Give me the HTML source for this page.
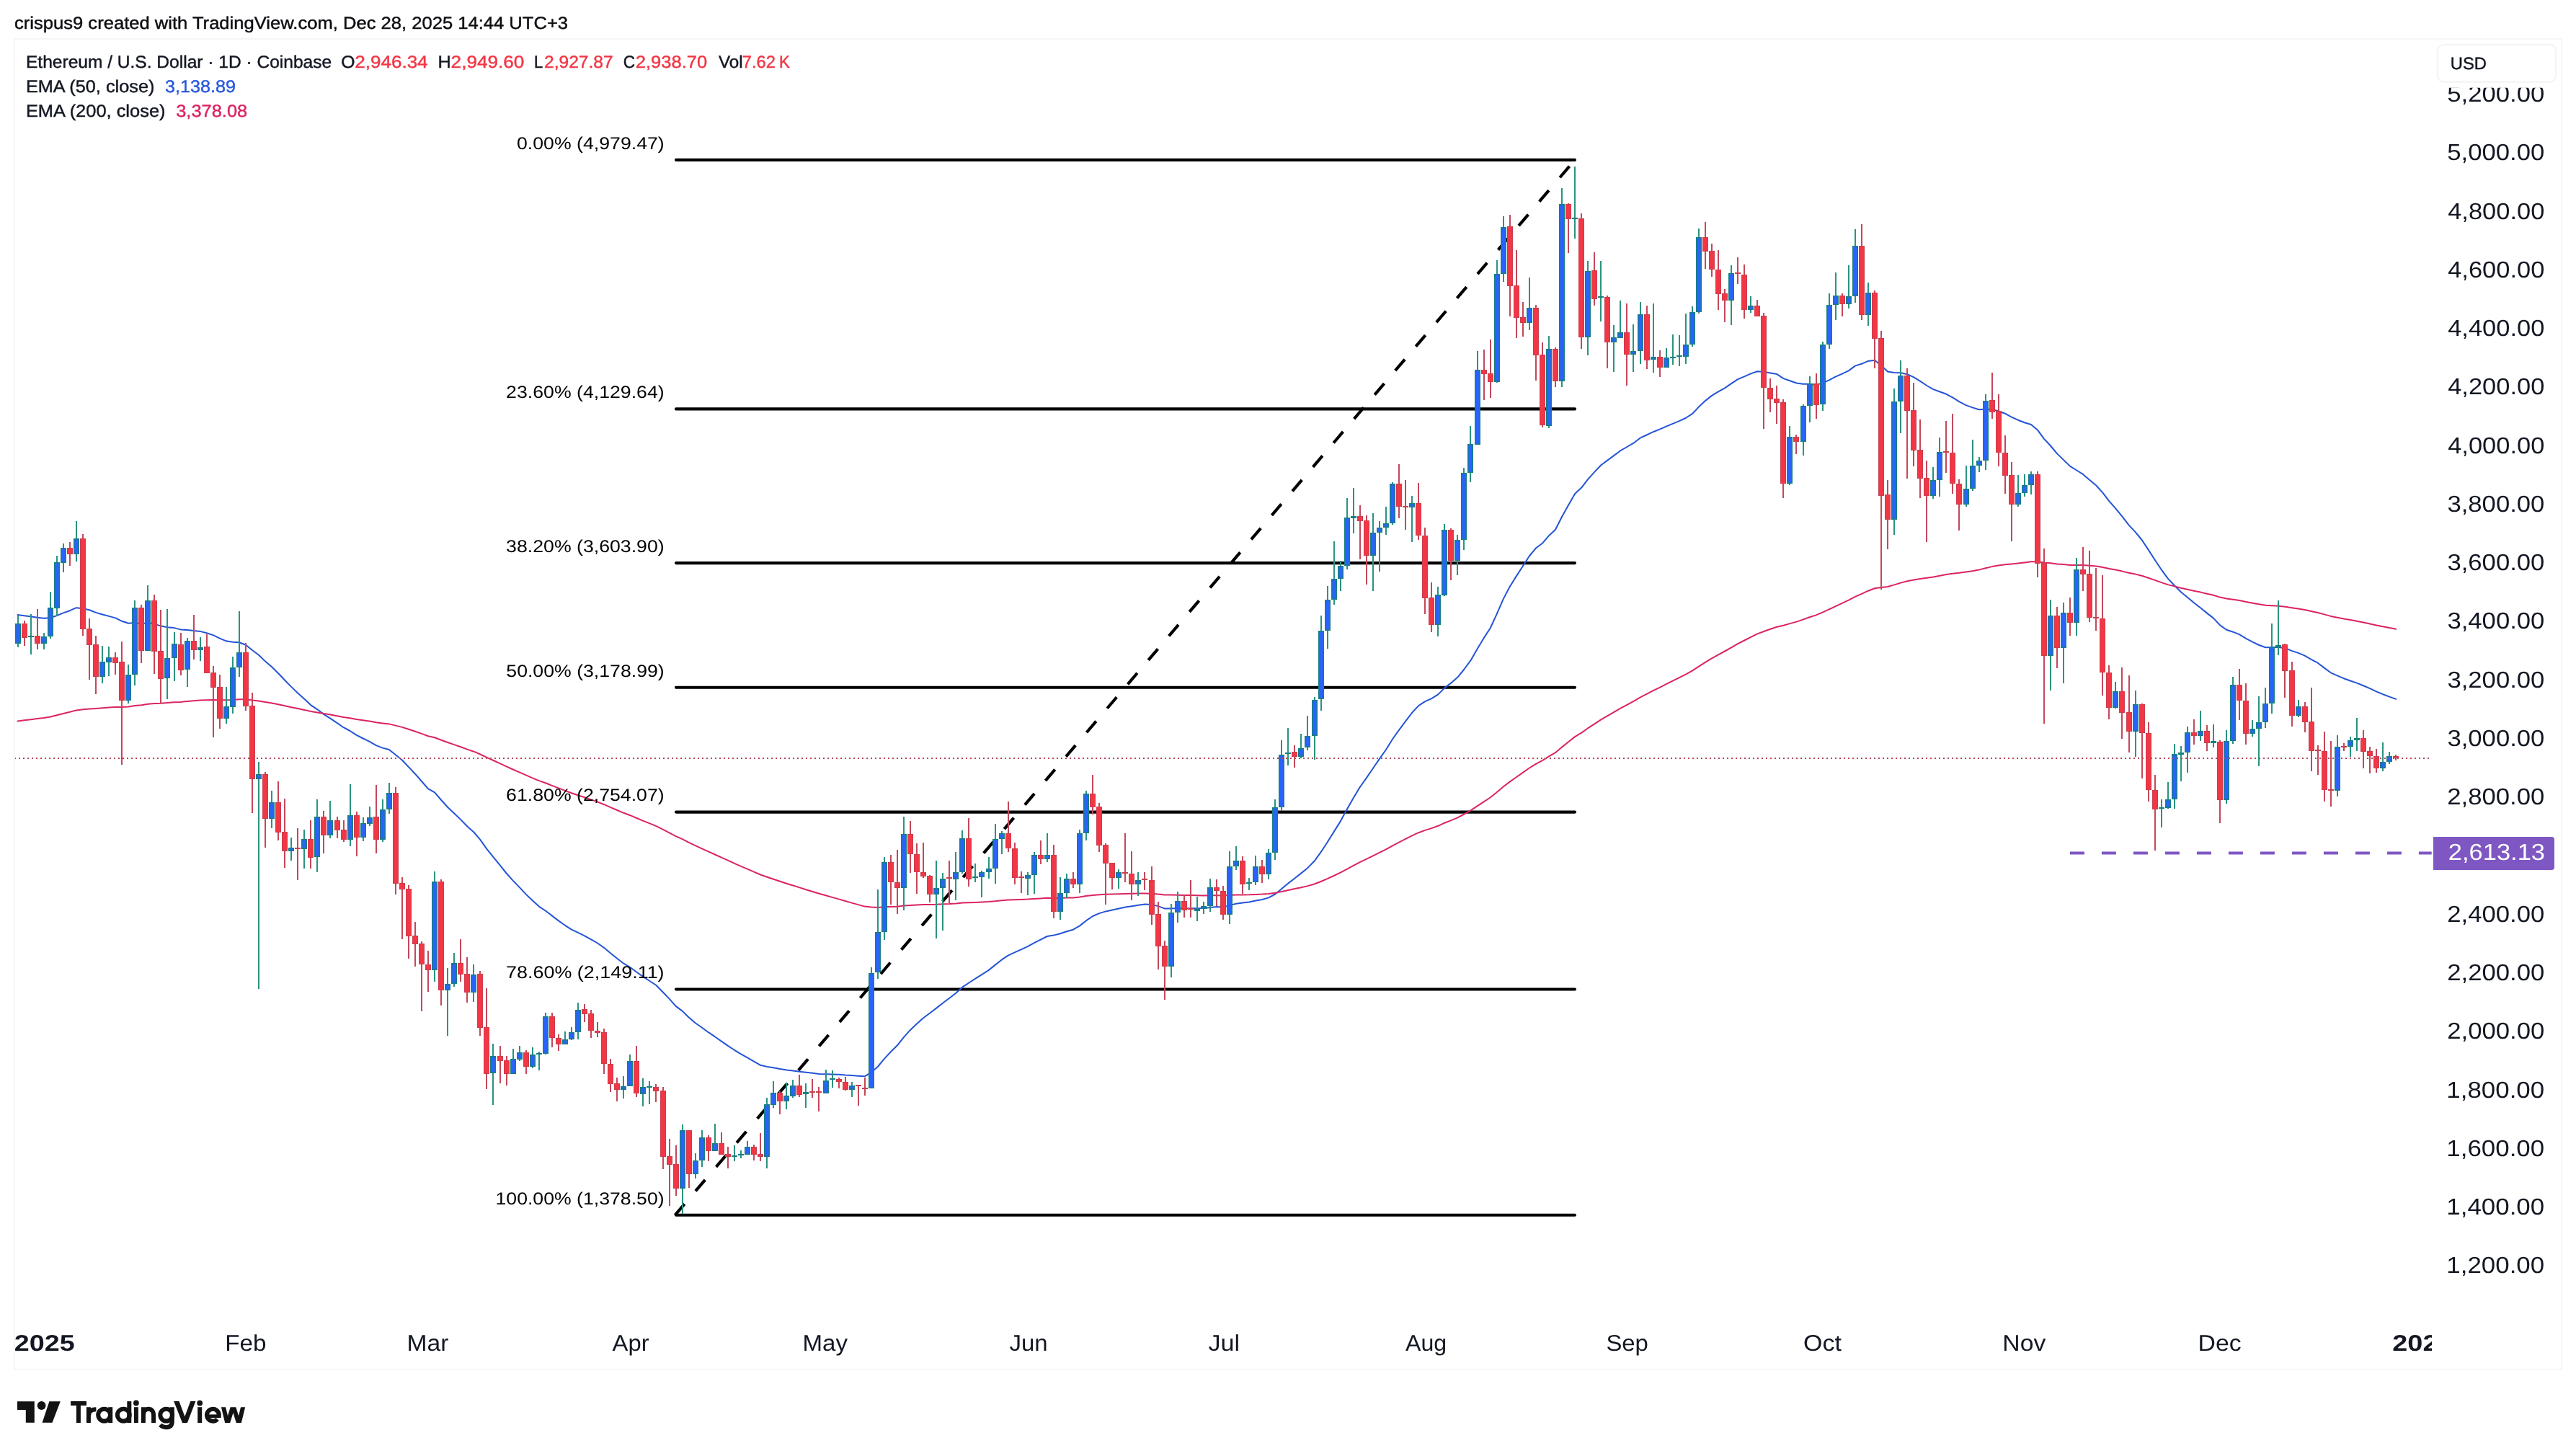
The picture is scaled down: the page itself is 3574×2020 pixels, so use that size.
<!DOCTYPE html>
<html><head><meta charset="utf-8"><title>ETHUSD</title><style>html,body{margin:0;padding:0;background:#fff}body{width:3574px;height:2020px;overflow:hidden;font-family:"Liberation Sans",sans-serif}</style></head><body>
<svg width="3574" height="2020" viewBox="0 0 3574 2020" font-family="Liberation Sans, sans-serif" shape-rendering="crispEdges" style="display:block;will-change:transform">
<rect width="3574" height="2020" fill="#fff"/>
<rect x="20" y="54" width="3534" height="1846" fill="none" stroke="#f6f6f8" stroke-width="2" shape-rendering="crispEdges"/>
<defs><clipPath id="cp"><rect x="21" y="55" width="3351" height="1760"/></clipPath><clipPath id="tp"><rect x="21" y="1820" width="3353" height="78"/></clipPath><clipPath id="lp"><rect x="3376" y="121.8" width="176" height="1700"/></clipPath></defs>
<g clip-path="url(#cp)">
<g shape-rendering="geometricPrecision">
<line x1="938" y1="221.9" x2="2185" y2="221.9" stroke="#000" stroke-width="4.1" stroke-linecap="round"/>
<line x1="938" y1="567.4" x2="2185" y2="567.4" stroke="#000" stroke-width="4.1" stroke-linecap="round"/>
<line x1="938" y1="781.1" x2="2185" y2="781.1" stroke="#000" stroke-width="4.1" stroke-linecap="round"/>
<line x1="938" y1="953.8" x2="2185" y2="953.8" stroke="#000" stroke-width="4.1" stroke-linecap="round"/>
<line x1="938" y1="1126.6" x2="2185" y2="1126.6" stroke="#000" stroke-width="4.1" stroke-linecap="round"/>
<line x1="938" y1="1372.5" x2="2185" y2="1372.5" stroke="#000" stroke-width="4.1" stroke-linecap="round"/>
<line x1="938" y1="1685.8" x2="2185" y2="1685.8" stroke="#000" stroke-width="4.1" stroke-linecap="round"/>
<line x1="936.5" y1="1685.8" x2="2185" y2="221.9" stroke="#000" stroke-width="4.2" stroke-dasharray="20.4 23.6"/>
</g>
<g shape-rendering="geometricPrecision" fill="none" stroke-width="2" stroke-linejoin="round" stroke-linecap="round">
<path d="M24.6,853L33.6,854.2L42.6,855.3L51.7,856.7L60.7,857.8L69.8,857.2L78.8,854.1L87.8,850.4L96.9,847.2L105.9,843.2L115,844.3L124,846.3L133,849.9L142.1,852.5L151.1,854.9L160.2,857.4L169.2,861.8L178.2,864.7L187.3,863.9L196.3,865.4L205.4,864.1L214.4,865.6L223.4,868.6L232.5,870.3L241.5,871.1L250.6,873.4L259.6,874L268.6,875.1L277.7,875.9L286.7,878.2L295.8,881.1L304.8,885.6L313.8,889.3L322.9,890.7L331.9,891.3L341,894.7L350,902L359,908.7L368.1,917.6L377.1,925.2L386.2,934.2L395.2,943.8L404.2,952.9L413.3,961.7L422.3,969.7L431.4,978.3L440.4,984.3L449.4,991.1L458.5,996.9L467.5,1002.9L476.6,1009.2L485.6,1014L494.6,1019.8L503.7,1024.5L512.7,1028.8L521.8,1034.1L530.8,1037.6L539.8,1040L548.9,1047.2L557.9,1054.5L567,1064.1L576,1073.7L585,1084L594.1,1094.3L603.1,1099.3L612.2,1110L621.2,1120L630.2,1128.4L639.3,1137.1L648.3,1146.5L657.4,1154.5L666.4,1165.2L675.4,1177.8L684.5,1189.1L693.5,1200.2L702.6,1211.5L711.6,1221.6L720.6,1230.9L729.7,1240.6L738.7,1249.3L747.8,1257.6L756.8,1263.5L765.8,1270.4L774.9,1277.4L783.9,1283.8L793,1289.6L802,1293.9L811,1298.3L820.1,1303.4L829.1,1308.5L838.2,1315L847.2,1322.4L856.2,1329.8L865.3,1336.7L874.3,1342L883.4,1348.8L892.4,1355.1L901.4,1361L910.5,1367L919.5,1376.2L928.6,1385.6L937.6,1395.9L946.6,1402.6L955.7,1411.5L964.7,1419.2L973.8,1425.5L982.8,1432.2L991.8,1438.2L1000.9,1444.6L1009.9,1450.9L1019,1456.8L1028,1462.4L1037,1467.4L1046.1,1472.7L1055.1,1477.8L1064.2,1479.9L1073.2,1481.3L1082.2,1483.1L1091.3,1484.6L1100.3,1485.4L1109.4,1486.7L1118.4,1487.8L1127.4,1488.8L1136.5,1489.9L1145.5,1490.2L1154.6,1490.4L1163.6,1490.8L1172.6,1491.6L1181.7,1492.1L1190.7,1492.7L1199.8,1493.3L1208.8,1487.7L1217.8,1480L1226.9,1468.9L1235.9,1459.3L1245,1450.3L1254,1438.8L1263,1428.9L1272.1,1420.3L1281.1,1412.2L1290.2,1405.5L1299.2,1398.6L1308.2,1391.5L1317.3,1384.7L1326.3,1377.8L1335.4,1369.4L1344.4,1363.5L1353.4,1357.7L1362.5,1351.9L1371.5,1346.1L1380.6,1338.9L1389.6,1331.7L1398.6,1325.6L1407.7,1321.4L1416.7,1317.3L1425.8,1313.2L1434.8,1308.2L1443.8,1303.6L1452.9,1299L1461.9,1297.6L1471,1295.3L1480,1292.3L1489,1289.7L1498.1,1284.4L1507.1,1277.2L1516.2,1271L1525.2,1267.1L1534.2,1264.4L1543.3,1262.5L1552.3,1260.5L1561.4,1258.5L1570.4,1257.2L1579.4,1255.8L1588.5,1254.4L1597.5,1254.9L1606.6,1257.1L1615.6,1260.4L1624.6,1260.6L1633.7,1260.1L1642.7,1260.2L1651.8,1260.2L1660.8,1260.2L1669.8,1260.1L1678.9,1258.9L1687.9,1258L1697,1258.4L1706,1256.1L1715,1253.7L1724.1,1252.6L1733.1,1251.4L1742.2,1249.4L1751.2,1248L1760.2,1245.4L1769.3,1240.5L1778.3,1232.9L1787.4,1225.4L1796.4,1218.5L1805.4,1211.4L1814.5,1203.9L1823.5,1194.8L1832.6,1182.2L1841.6,1168.5L1850.6,1154.1L1859.7,1139.6L1868.7,1123.1L1877.8,1107.1L1886.8,1092L1895.8,1079.4L1904.9,1066L1913.9,1052.9L1923,1040L1932,1025.5L1941,1012.8L1950.1,1000.7L1959.1,988.8L1968.2,979.1L1977.2,973.2L1986.2,969.1L1995.3,963.4L2004.3,954.4L2013.4,947.4L2022.4,939.6L2031.4,928.5L2040.5,916.2L2049.5,900.4L2058.6,885.4L2067.6,871.5L2076.6,852.2L2085.7,831.1L2094.7,814L2103.8,799.4L2112.8,785.5L2121.8,771.5L2130.9,760.5L2139.9,753.8L2149,743.2L2158,734.8L2167,717L2176.1,700.8L2185.1,685.1L2194.2,676.6L2203.2,664.8L2212.2,654.9L2221.3,645.3L2230.3,638.6L2239.4,631.9L2248.4,625.2L2257.4,620L2266.5,614.7L2275.5,607.7L2284.6,603.5L2293.6,599.2L2302.6,595.6L2311.7,591.7L2320.7,587.9L2329.8,584.1L2338.8,580L2347.8,574.2L2356.9,564.6L2365.9,556.1L2375,548.9L2384,543.3L2393,538.3L2402.1,532.1L2411.1,526.1L2420.2,522.3L2429.2,518.4L2438.2,515.2L2447.3,516.1L2456.3,517.6L2465.4,519.1L2474.4,525.1L2483.4,528.2L2492.5,531.5L2501.5,532.7L2510.6,532.7L2519.6,533.8L2528.6,531.6L2537.7,527.3L2546.7,522.7L2555.8,518.7L2564.8,514.4L2573.8,507.6L2582.9,504.8L2591.9,500.9L2601,499.7L2610,507L2619,515.4L2628.1,517L2637.1,517.2L2646.2,519.2L2655.2,523.3L2664.2,528.8L2673.3,535L2682.3,540.1L2691.4,543.5L2700.4,546.8L2709.4,551.6L2718.5,557.4L2727.5,562.1L2736.6,565.4L2745.6,568.3L2754.6,567.8L2763.7,567.9L2772.7,570.2L2781.8,573.7L2790.8,578.6L2799.8,582.7L2808.9,586.2L2817.9,589L2827,596.6L2836,608.9L2845,618.5L2854.1,629.4L2863.1,638.1L2872.2,646.9L2881.2,652.5L2890.2,658.2L2899.3,665.9L2908.3,673.5L2917.4,683.6L2926.4,695.3L2935.4,705.6L2944.5,716.7L2953.5,728.4L2962.6,738.1L2971.6,749L2980.6,762.6L2989.7,776.7L2998.7,790.2L3007.8,802.6L3016.8,812.2L3025.8,821.2L3034.9,828.8L3043.9,836.3L3053,843.3L3062,850.6L3071,857.6L3080.1,867.4L3089.1,873.7L3098.2,876.7L3107.2,880.4L3116.2,885.8L3125.3,890.7L3134.3,895L3143.4,898.2L3152.4,898.1L3161.4,898L3170.5,899.2L3179.5,902.9L3188.6,905.9L3197.6,909.6L3206.6,914.8L3215.7,919.7L3224.7,926.6L3233.8,933.3L3242.8,937.3L3251.8,941.2L3260.9,944.5L3269.9,947.6L3279,951.3L3288,955.1L3297,959.4L3306.1,963.2L3315.1,966.6L3324.2,969.9" stroke="#2454D6"/>
<path d="M24.6,1000.5L33.6,999.3L42.6,998.2L51.7,997.1L60.7,996L69.8,994.5L78.8,992.3L87.8,990L96.9,987.8L105.9,985.4L115,984.3L124,983.4L133,982.9L142.1,982.3L151.1,981.6L160.2,981L169.2,980.9L178.2,980.4L187.3,979L196.3,978.3L205.4,976.8L214.4,976.1L223.4,975.8L232.5,975.1L241.5,974.3L250.6,973.9L259.6,973L268.6,972.3L277.7,971.5L286.7,971.2L295.8,971L304.8,971.2L313.8,971.3L322.9,970.9L331.9,970.2L341,970.3L350,971.4L359,972.4L368.1,974L377.1,975.4L386.2,977.2L395.2,979.2L404.2,981.2L413.3,983.1L422.3,984.9L431.4,987L440.4,988.4L449.4,990.1L458.5,991.6L467.5,993.2L476.6,994.9L485.6,996.2L494.6,997.9L503.7,999.3L512.7,1000.6L521.8,1002.2L530.8,1003.4L539.8,1004.4L548.9,1006.6L557.9,1008.9L567,1011.7L576,1014.7L585,1017.9L594.1,1021.2L603.1,1023.2L612.2,1026.7L621.2,1030L630.2,1033.1L639.3,1036.2L648.3,1039.6L657.4,1042.7L666.4,1046.5L675.4,1050.9L684.5,1055L693.5,1059.2L702.6,1063.4L711.6,1067.5L720.6,1071.4L729.7,1075.4L738.7,1079.3L747.8,1083.1L756.8,1086.3L765.8,1089.9L774.9,1093.4L783.9,1096.9L793,1100.2L802,1103.2L811,1106.2L820.1,1109.4L829.1,1112.6L838.2,1116.2L847.2,1120.1L856.2,1124L865.3,1127.8L874.3,1131.2L883.4,1135L892.4,1138.8L901.4,1142.4L910.5,1146.1L919.5,1150.7L928.6,1155.3L937.6,1160.2L946.6,1164.2L955.7,1168.9L964.7,1173.2L973.8,1177.3L982.8,1181.4L991.8,1185.5L1000.9,1189.6L1009.9,1193.7L1019,1197.8L1028,1201.8L1037,1205.7L1046.1,1209.6L1055.1,1213.5L1064.2,1216.7L1073.2,1219.7L1082.2,1222.7L1091.3,1225.7L1100.3,1228.5L1109.4,1231.4L1118.4,1234.2L1127.4,1237L1136.5,1239.8L1145.5,1242.3L1154.6,1244.9L1163.6,1247.4L1172.6,1250L1181.7,1252.6L1190.7,1255.1L1199.8,1257.6L1208.8,1258.5L1217.8,1258.9L1226.9,1258.3L1235.9,1257.9L1245,1257.7L1254,1256.6L1263,1255.9L1272.1,1255.5L1281.1,1255.1L1290.2,1254.9L1299.2,1254.7L1308.2,1254.3L1317.3,1254L1326.3,1253.5L1335.4,1252.6L1344.4,1252.3L1353.4,1251.9L1362.5,1251.5L1371.5,1251L1380.6,1250.2L1389.6,1249.2L1398.6,1248.5L1407.7,1248.2L1416.7,1247.9L1425.8,1247.5L1434.8,1246.9L1443.8,1246.4L1452.9,1245.8L1461.9,1246L1471,1245.9L1480,1245.6L1489,1245.4L1498.1,1244.5L1507.1,1243.1L1516.2,1241.9L1525.2,1241.2L1534.2,1240.7L1543.3,1240.5L1552.3,1240.2L1561.4,1239.9L1570.4,1239.8L1579.4,1239.6L1588.5,1239.4L1597.5,1239.7L1606.6,1240.4L1615.6,1241.4L1624.6,1241.6L1633.7,1241.7L1642.7,1241.9L1651.8,1242.1L1660.8,1242.3L1669.8,1242.4L1678.9,1242.3L1687.9,1242.2L1697,1242.5L1706,1242.1L1715,1241.6L1724.1,1241.4L1733.1,1241.3L1742.2,1240.9L1751.2,1240.6L1760.2,1240L1769.3,1238.8L1778.3,1236.9L1787.4,1235L1796.4,1233.1L1805.4,1231.2L1814.5,1229.1L1823.5,1226.5L1832.6,1223L1841.6,1219.1L1850.6,1215L1859.7,1210.7L1868.7,1205.8L1877.8,1200.9L1886.8,1196.1L1895.8,1191.9L1904.9,1187.4L1913.9,1182.9L1923,1178.3L1932,1173.3L1941,1168.6L1950.1,1163.9L1959.1,1159.3L1968.2,1155.2L1977.2,1151.9L1986.2,1149.1L1995.3,1145.8L2004.3,1141.7L2013.4,1138.1L2022.4,1134.3L2031.4,1129.5L2040.5,1124.4L2049.5,1118.3L2058.6,1112.3L2067.6,1106.5L2076.6,1099.3L2085.7,1091.5L2094.7,1084.6L2103.8,1078.2L2112.8,1071.9L2121.8,1065.5L2130.9,1059.8L2139.9,1055.1L2149,1049.4L2158,1044.2L2167,1036.6L2176.1,1029.3L2185.1,1022.1L2194.2,1016.6L2203.2,1010.2L2212.2,1004.3L2221.3,998.4L2230.3,993.1L2239.4,987.9L2248.4,982.7L2257.4,977.8L2266.5,972.9L2275.5,967.6L2284.6,962.9L2293.6,958.2L2302.6,953.8L2311.7,949.2L2320.7,944.7L2329.8,940.2L2338.8,935.6L2347.8,930.6L2356.9,924.6L2365.9,918.9L2375,913.4L2384,908.4L2393,903.5L2402.1,898.3L2411.1,893.1L2420.2,888.5L2429.2,883.9L2438.2,879.4L2447.3,876L2456.3,872.8L2465.4,869.7L2474.4,867.7L2483.4,865.1L2492.5,862.6L2501.5,859.6L2510.6,856.3L2519.6,853.4L2528.6,849.7L2537.7,845.4L2546.7,841.1L2555.8,836.9L2564.8,832.7L2573.8,827.8L2582.9,823.9L2591.9,819.7L2601,816.2L2610,814.9L2619,814L2628.1,811.4L2637.1,808.6L2646.2,806.2L2655.2,804.4L2664.2,803L2673.3,801.8L2682.3,800.5L2691.4,798.7L2700.4,797L2709.4,795.8L2718.5,794.8L2727.5,793.6L2736.6,792.2L2745.6,790.6L2754.6,788.3L2763.7,786.1L2772.7,784.6L2781.8,783.3L2790.8,782.5L2799.8,781.5L2808.9,780.4L2817.9,779.2L2827,779.2L2836,780.5L2845,781.2L2854.1,782.4L2863.1,783.1L2872.2,783.9L2881.2,783.9L2890.2,784.1L2899.3,784.8L2908.3,785.5L2917.4,787L2926.4,788.9L2935.4,790.6L2944.5,792.6L2953.5,794.8L2962.6,796.6L2971.6,798.8L2980.6,801.7L2989.7,804.9L2998.7,808.1L3007.8,811.1L3016.8,813.4L3025.8,815.7L3034.9,817.7L3043.9,819.7L3053,821.6L3062,823.7L3071,825.7L3080.1,828.6L3089.1,830.5L3098.2,831.7L3107.2,833.1L3116.2,834.9L3125.3,836.7L3134.3,838.3L3143.4,839.7L3152.4,840.3L3161.4,840.8L3170.5,841.7L3179.5,843.2L3188.6,844.6L3197.6,846.1L3206.6,848.1L3215.7,850L3224.7,852.4L3233.8,854.9L3242.8,856.7L3251.8,858.5L3260.9,860.1L3269.9,861.7L3279,863.5L3288,865.4L3297,867.4L3306.1,869.3L3315.1,871L3324.2,872.8" stroke="#DB2461"/>
</g>
<rect x="24" y="854" width="2" height="44" fill="#2A9380"/>
<rect x="21" y="865" width="8" height="28" fill="#17807F"/>
<rect x="33" y="861" width="2" height="35" fill="#C4485A"/>
<rect x="30" y="865" width="8" height="20" fill="#CB3E4F"/>
<rect x="42" y="852" width="2" height="56" fill="#2A9380"/>
<rect x="39" y="882" width="8" height="2" fill="#17807F"/>
<rect x="51" y="845" width="2" height="56" fill="#C4485A"/>
<rect x="48" y="882" width="8" height="11" fill="#CB3E4F"/>
<rect x="60" y="878" width="2" height="23" fill="#2A9380"/>
<rect x="57" y="883" width="8" height="10" fill="#17807F"/>
<rect x="69" y="821" width="2" height="65" fill="#2A9380"/>
<rect x="66" y="843" width="8" height="40" fill="#17807F"/>
<rect x="78" y="771" width="2" height="84" fill="#2A9380"/>
<rect x="75" y="780" width="8" height="64" fill="#17807F"/>
<rect x="87" y="754" width="2" height="40" fill="#2A9380"/>
<rect x="84" y="760" width="8" height="21" fill="#17807F"/>
<rect x="96" y="752" width="2" height="33" fill="#C4485A"/>
<rect x="93" y="760" width="8" height="9" fill="#CB3E4F"/>
<rect x="105" y="723" width="2" height="56" fill="#2A9380"/>
<rect x="102" y="747" width="8" height="22" fill="#17807F"/>
<rect x="114" y="741" width="2" height="141" fill="#C4485A"/>
<rect x="111" y="747" width="8" height="126" fill="#CB3E4F"/>
<rect x="123" y="858" width="2" height="85" fill="#C4485A"/>
<rect x="120" y="872" width="8" height="23" fill="#CB3E4F"/>
<rect x="132" y="882" width="2" height="81" fill="#C4485A"/>
<rect x="129" y="894" width="8" height="45" fill="#CB3E4F"/>
<rect x="141" y="896" width="2" height="52" fill="#2A9380"/>
<rect x="138" y="918" width="8" height="21" fill="#17807F"/>
<rect x="150" y="897" width="2" height="41" fill="#2A9380"/>
<rect x="147" y="912" width="8" height="7" fill="#17807F"/>
<rect x="159" y="905" width="2" height="31" fill="#C4485A"/>
<rect x="156" y="912" width="8" height="8" fill="#CB3E4F"/>
<rect x="168" y="890" width="2" height="171" fill="#C4485A"/>
<rect x="165" y="918" width="8" height="54" fill="#CB3E4F"/>
<rect x="177" y="922" width="2" height="54" fill="#2A9380"/>
<rect x="174" y="936" width="8" height="36" fill="#17807F"/>
<rect x="186" y="833" width="2" height="118" fill="#2A9380"/>
<rect x="183" y="843" width="8" height="93" fill="#17807F"/>
<rect x="195" y="839" width="2" height="81" fill="#C4485A"/>
<rect x="192" y="843" width="8" height="60" fill="#CB3E4F"/>
<rect x="204" y="812" width="2" height="91" fill="#2A9380"/>
<rect x="201" y="833" width="8" height="70" fill="#17807F"/>
<rect x="213" y="825" width="2" height="110" fill="#C4485A"/>
<rect x="210" y="833" width="8" height="71" fill="#CB3E4F"/>
<rect x="222" y="846" width="2" height="130" fill="#C4485A"/>
<rect x="219" y="903" width="8" height="39" fill="#CB3E4F"/>
<rect x="231" y="845" width="2" height="125" fill="#2A9380"/>
<rect x="228" y="913" width="8" height="28" fill="#17807F"/>
<rect x="241" y="877" width="2" height="68" fill="#2A9380"/>
<rect x="238" y="893" width="8" height="20" fill="#17807F"/>
<rect x="250" y="878" width="2" height="59" fill="#C4485A"/>
<rect x="247" y="894" width="8" height="36" fill="#CB3E4F"/>
<rect x="259" y="885" width="2" height="68" fill="#2A9380"/>
<rect x="256" y="889" width="8" height="40" fill="#17807F"/>
<rect x="268" y="853" width="2" height="62" fill="#C4485A"/>
<rect x="265" y="889" width="8" height="13" fill="#CB3E4F"/>
<rect x="277" y="884" width="2" height="33" fill="#2A9380"/>
<rect x="274" y="898" width="8" height="4" fill="#17807F"/>
<rect x="286" y="880" width="2" height="54" fill="#C4485A"/>
<rect x="283" y="897" width="8" height="37" fill="#CB3E4F"/>
<rect x="295" y="924" width="2" height="99" fill="#C4485A"/>
<rect x="292" y="933" width="8" height="21" fill="#CB3E4F"/>
<rect x="304" y="936" width="2" height="75" fill="#C4485A"/>
<rect x="301" y="953" width="8" height="44" fill="#CB3E4F"/>
<rect x="313" y="953" width="2" height="51" fill="#2A9380"/>
<rect x="310" y="980" width="8" height="17" fill="#17807F"/>
<rect x="322" y="911" width="2" height="79" fill="#2A9380"/>
<rect x="319" y="926" width="8" height="55" fill="#17807F"/>
<rect x="331" y="848" width="2" height="91" fill="#2A9380"/>
<rect x="328" y="905" width="8" height="21" fill="#17807F"/>
<rect x="340" y="892" width="2" height="94" fill="#C4485A"/>
<rect x="337" y="905" width="8" height="75" fill="#CB3E4F"/>
<rect x="349" y="961" width="2" height="167" fill="#C4485A"/>
<rect x="346" y="979" width="8" height="102" fill="#CB3E4F"/>
<rect x="358" y="1057" width="2" height="315" fill="#2A9380"/>
<rect x="355" y="1074" width="8" height="7" fill="#17807F"/>
<rect x="367" y="1071" width="2" height="105" fill="#C4485A"/>
<rect x="364" y="1074" width="8" height="62" fill="#CB3E4F"/>
<rect x="376" y="1097" width="2" height="52" fill="#2A9380"/>
<rect x="373" y="1113" width="8" height="23" fill="#17807F"/>
<rect x="385" y="1084" width="2" height="82" fill="#C4485A"/>
<rect x="382" y="1113" width="8" height="42" fill="#CB3E4F"/>
<rect x="394" y="1108" width="2" height="96" fill="#C4485A"/>
<rect x="391" y="1154" width="8" height="27" fill="#CB3E4F"/>
<rect x="403" y="1162" width="2" height="32" fill="#2A9380"/>
<rect x="400" y="1176" width="8" height="5" fill="#17807F"/>
<rect x="412" y="1149" width="2" height="72" fill="#C4485A"/>
<rect x="409" y="1176" width="8" height="2" fill="#CB3E4F"/>
<rect x="421" y="1151" width="2" height="54" fill="#2A9380"/>
<rect x="418" y="1164" width="8" height="14" fill="#17807F"/>
<rect x="430" y="1138" width="2" height="67" fill="#C4485A"/>
<rect x="427" y="1164" width="8" height="26" fill="#CB3E4F"/>
<rect x="439" y="1109" width="2" height="101" fill="#2A9380"/>
<rect x="436" y="1133" width="8" height="56" fill="#17807F"/>
<rect x="448" y="1125" width="2" height="59" fill="#C4485A"/>
<rect x="445" y="1133" width="8" height="26" fill="#CB3E4F"/>
<rect x="457" y="1111" width="2" height="52" fill="#2A9380"/>
<rect x="454" y="1138" width="8" height="21" fill="#17807F"/>
<rect x="467" y="1133" width="2" height="30" fill="#C4485A"/>
<rect x="464" y="1138" width="8" height="14" fill="#CB3E4F"/>
<rect x="476" y="1138" width="2" height="30" fill="#C4485A"/>
<rect x="473" y="1151" width="8" height="14" fill="#CB3E4F"/>
<rect x="485" y="1088" width="2" height="86" fill="#2A9380"/>
<rect x="482" y="1131" width="8" height="34" fill="#17807F"/>
<rect x="494" y="1126" width="2" height="62" fill="#C4485A"/>
<rect x="491" y="1131" width="8" height="31" fill="#CB3E4F"/>
<rect x="503" y="1134" width="2" height="33" fill="#2A9380"/>
<rect x="500" y="1142" width="8" height="20" fill="#17807F"/>
<rect x="512" y="1119" width="2" height="27" fill="#2A9380"/>
<rect x="509" y="1134" width="8" height="9" fill="#17807F"/>
<rect x="521" y="1089" width="2" height="95" fill="#C4485A"/>
<rect x="518" y="1133" width="8" height="32" fill="#CB3E4F"/>
<rect x="530" y="1109" width="2" height="59" fill="#2A9380"/>
<rect x="527" y="1123" width="8" height="42" fill="#17807F"/>
<rect x="539" y="1086" width="2" height="43" fill="#2A9380"/>
<rect x="536" y="1100" width="8" height="23" fill="#17807F"/>
<rect x="548" y="1092" width="2" height="149" fill="#C4485A"/>
<rect x="545" y="1100" width="8" height="126" fill="#CB3E4F"/>
<rect x="557" y="1217" width="2" height="86" fill="#C4485A"/>
<rect x="554" y="1225" width="8" height="9" fill="#CB3E4F"/>
<rect x="566" y="1228" width="2" height="102" fill="#C4485A"/>
<rect x="563" y="1233" width="8" height="66" fill="#CB3E4F"/>
<rect x="575" y="1279" width="2" height="62" fill="#C4485A"/>
<rect x="572" y="1298" width="8" height="12" fill="#CB3E4F"/>
<rect x="584" y="1306" width="2" height="97" fill="#C4485A"/>
<rect x="581" y="1309" width="8" height="29" fill="#CB3E4F"/>
<rect x="593" y="1319" width="2" height="57" fill="#C4485A"/>
<rect x="590" y="1338" width="8" height="8" fill="#CB3E4F"/>
<rect x="602" y="1209" width="2" height="153" fill="#2A9380"/>
<rect x="599" y="1223" width="8" height="123" fill="#17807F"/>
<rect x="611" y="1220" width="2" height="175" fill="#C4485A"/>
<rect x="608" y="1223" width="8" height="151" fill="#CB3E4F"/>
<rect x="620" y="1343" width="2" height="94" fill="#2A9380"/>
<rect x="617" y="1365" width="8" height="9" fill="#17807F"/>
<rect x="629" y="1322" width="2" height="47" fill="#2A9380"/>
<rect x="626" y="1336" width="8" height="29" fill="#17807F"/>
<rect x="638" y="1303" width="2" height="59" fill="#C4485A"/>
<rect x="635" y="1336" width="8" height="16" fill="#CB3E4F"/>
<rect x="647" y="1328" width="2" height="63" fill="#C4485A"/>
<rect x="644" y="1351" width="8" height="26" fill="#CB3E4F"/>
<rect x="656" y="1338" width="2" height="52" fill="#2A9380"/>
<rect x="653" y="1352" width="8" height="25" fill="#17807F"/>
<rect x="665" y="1347" width="2" height="90" fill="#C4485A"/>
<rect x="662" y="1351" width="8" height="75" fill="#CB3E4F"/>
<rect x="674" y="1371" width="2" height="140" fill="#C4485A"/>
<rect x="671" y="1425" width="8" height="65" fill="#CB3E4F"/>
<rect x="683" y="1448" width="2" height="85" fill="#2A9380"/>
<rect x="680" y="1465" width="8" height="24" fill="#17807F"/>
<rect x="693" y="1451" width="2" height="52" fill="#C4485A"/>
<rect x="690" y="1465" width="8" height="7" fill="#CB3E4F"/>
<rect x="702" y="1465" width="2" height="41" fill="#C4485A"/>
<rect x="699" y="1471" width="8" height="19" fill="#CB3E4F"/>
<rect x="711" y="1455" width="2" height="35" fill="#2A9380"/>
<rect x="708" y="1469" width="8" height="21" fill="#17807F"/>
<rect x="720" y="1451" width="2" height="21" fill="#2A9380"/>
<rect x="717" y="1460" width="8" height="10" fill="#17807F"/>
<rect x="729" y="1457" width="2" height="33" fill="#C4485A"/>
<rect x="726" y="1460" width="8" height="20" fill="#CB3E4F"/>
<rect x="738" y="1453" width="2" height="29" fill="#2A9380"/>
<rect x="735" y="1463" width="8" height="17" fill="#17807F"/>
<rect x="747" y="1459" width="2" height="26" fill="#2A9380"/>
<rect x="744" y="1461" width="8" height="2" fill="#17807F"/>
<rect x="756" y="1405" width="2" height="58" fill="#2A9380"/>
<rect x="753" y="1410" width="8" height="52" fill="#17807F"/>
<rect x="765" y="1405" width="2" height="48" fill="#C4485A"/>
<rect x="762" y="1410" width="8" height="30" fill="#CB3E4F"/>
<rect x="774" y="1435" width="2" height="23" fill="#C4485A"/>
<rect x="771" y="1440" width="8" height="9" fill="#CB3E4F"/>
<rect x="783" y="1431" width="2" height="18" fill="#2A9380"/>
<rect x="780" y="1442" width="8" height="7" fill="#17807F"/>
<rect x="792" y="1425" width="2" height="18" fill="#2A9380"/>
<rect x="789" y="1432" width="8" height="10" fill="#17807F"/>
<rect x="801" y="1391" width="2" height="51" fill="#2A9380"/>
<rect x="798" y="1401" width="8" height="31" fill="#17807F"/>
<rect x="810" y="1393" width="2" height="25" fill="#C4485A"/>
<rect x="807" y="1400" width="8" height="7" fill="#CB3E4F"/>
<rect x="819" y="1401" width="2" height="39" fill="#C4485A"/>
<rect x="816" y="1406" width="8" height="24" fill="#CB3E4F"/>
<rect x="828" y="1418" width="2" height="21" fill="#C4485A"/>
<rect x="825" y="1430" width="8" height="3" fill="#CB3E4F"/>
<rect x="837" y="1427" width="2" height="63" fill="#C4485A"/>
<rect x="834" y="1432" width="8" height="44" fill="#CB3E4F"/>
<rect x="846" y="1469" width="2" height="46" fill="#C4485A"/>
<rect x="843" y="1476" width="8" height="28" fill="#CB3E4F"/>
<rect x="855" y="1495" width="2" height="33" fill="#C4485A"/>
<rect x="852" y="1503" width="8" height="9" fill="#CB3E4F"/>
<rect x="864" y="1493" width="2" height="31" fill="#2A9380"/>
<rect x="861" y="1507" width="8" height="5" fill="#17807F"/>
<rect x="873" y="1463" width="2" height="44" fill="#2A9380"/>
<rect x="870" y="1472" width="8" height="35" fill="#17807F"/>
<rect x="882" y="1451" width="2" height="71" fill="#C4485A"/>
<rect x="879" y="1472" width="8" height="45" fill="#CB3E4F"/>
<rect x="891" y="1496" width="2" height="39" fill="#2A9380"/>
<rect x="888" y="1508" width="8" height="10" fill="#17807F"/>
<rect x="900" y="1500" width="2" height="32" fill="#2A9380"/>
<rect x="897" y="1507" width="8" height="2" fill="#17807F"/>
<rect x="909" y="1504" width="2" height="25" fill="#C4485A"/>
<rect x="906" y="1508" width="8" height="6" fill="#CB3E4F"/>
<rect x="919" y="1508" width="2" height="114" fill="#C4485A"/>
<rect x="916" y="1513" width="8" height="92" fill="#CB3E4F"/>
<rect x="928" y="1580" width="2" height="93" fill="#C4485A"/>
<rect x="925" y="1604" width="8" height="12" fill="#CB3E4F"/>
<rect x="937" y="1589" width="2" height="70" fill="#C4485A"/>
<rect x="934" y="1615" width="8" height="34" fill="#CB3E4F"/>
<rect x="946" y="1560" width="2" height="124" fill="#2A9380"/>
<rect x="943" y="1568" width="8" height="81" fill="#17807F"/>
<rect x="955" y="1568" width="2" height="80" fill="#C4485A"/>
<rect x="952" y="1568" width="8" height="61" fill="#CB3E4F"/>
<rect x="964" y="1600" width="2" height="35" fill="#2A9380"/>
<rect x="961" y="1610" width="8" height="19" fill="#17807F"/>
<rect x="973" y="1568" width="2" height="51" fill="#2A9380"/>
<rect x="970" y="1578" width="8" height="32" fill="#17807F"/>
<rect x="982" y="1575" width="2" height="36" fill="#C4485A"/>
<rect x="979" y="1578" width="8" height="19" fill="#CB3E4F"/>
<rect x="991" y="1559" width="2" height="38" fill="#2A9380"/>
<rect x="988" y="1586" width="8" height="11" fill="#17807F"/>
<rect x="1000" y="1571" width="2" height="31" fill="#C4485A"/>
<rect x="997" y="1586" width="8" height="16" fill="#CB3E4F"/>
<rect x="1009" y="1591" width="2" height="30" fill="#C4485A"/>
<rect x="1006" y="1601" width="8" height="4" fill="#CB3E4F"/>
<rect x="1018" y="1589" width="2" height="22" fill="#2A9380"/>
<rect x="1015" y="1603" width="8" height="2" fill="#17807F"/>
<rect x="1027" y="1596" width="2" height="11" fill="#2A9380"/>
<rect x="1024" y="1601" width="8" height="2" fill="#17807F"/>
<rect x="1036" y="1583" width="2" height="19" fill="#2A9380"/>
<rect x="1033" y="1591" width="8" height="11" fill="#17807F"/>
<rect x="1045" y="1588" width="2" height="22" fill="#C4485A"/>
<rect x="1042" y="1591" width="8" height="11" fill="#CB3E4F"/>
<rect x="1054" y="1572" width="2" height="39" fill="#C4485A"/>
<rect x="1051" y="1601" width="8" height="4" fill="#CB3E4F"/>
<rect x="1063" y="1523" width="2" height="98" fill="#2A9380"/>
<rect x="1060" y="1532" width="8" height="73" fill="#17807F"/>
<rect x="1072" y="1500" width="2" height="37" fill="#2A9380"/>
<rect x="1069" y="1516" width="8" height="17" fill="#17807F"/>
<rect x="1081" y="1514" width="2" height="32" fill="#C4485A"/>
<rect x="1078" y="1516" width="8" height="12" fill="#CB3E4F"/>
<rect x="1090" y="1502" width="2" height="37" fill="#2A9380"/>
<rect x="1087" y="1520" width="8" height="8" fill="#17807F"/>
<rect x="1099" y="1498" width="2" height="25" fill="#2A9380"/>
<rect x="1096" y="1506" width="8" height="15" fill="#17807F"/>
<rect x="1108" y="1491" width="2" height="31" fill="#C4485A"/>
<rect x="1105" y="1506" width="8" height="13" fill="#CB3E4F"/>
<rect x="1117" y="1503" width="2" height="34" fill="#2A9380"/>
<rect x="1114" y="1515" width="8" height="3" fill="#17807F"/>
<rect x="1126" y="1497" width="2" height="26" fill="#C4485A"/>
<rect x="1123" y="1514" width="8" height="2" fill="#CB3E4F"/>
<rect x="1135" y="1508" width="2" height="34" fill="#C4485A"/>
<rect x="1132" y="1514" width="8" height="2" fill="#CB3E4F"/>
<rect x="1145" y="1484" width="2" height="33" fill="#2A9380"/>
<rect x="1142" y="1499" width="8" height="18" fill="#17807F"/>
<rect x="1154" y="1485" width="2" height="24" fill="#2A9380"/>
<rect x="1151" y="1496" width="8" height="2" fill="#17807F"/>
<rect x="1163" y="1495" width="2" height="15" fill="#C4485A"/>
<rect x="1160" y="1497" width="8" height="4" fill="#CB3E4F"/>
<rect x="1172" y="1494" width="2" height="19" fill="#C4485A"/>
<rect x="1169" y="1501" width="8" height="11" fill="#CB3E4F"/>
<rect x="1181" y="1501" width="2" height="21" fill="#2A9380"/>
<rect x="1178" y="1506" width="8" height="6" fill="#17807F"/>
<rect x="1190" y="1505" width="2" height="29" fill="#C4485A"/>
<rect x="1187" y="1505" width="8" height="2" fill="#CB3E4F"/>
<rect x="1199" y="1495" width="2" height="25" fill="#C4485A"/>
<rect x="1196" y="1509" width="8" height="2" fill="#CB3E4F"/>
<rect x="1208" y="1342" width="2" height="168" fill="#2A9380"/>
<rect x="1205" y="1350" width="8" height="160" fill="#17807F"/>
<rect x="1217" y="1234" width="2" height="124" fill="#2A9380"/>
<rect x="1214" y="1293" width="8" height="56" fill="#17807F"/>
<rect x="1226" y="1189" width="2" height="115" fill="#2A9380"/>
<rect x="1223" y="1196" width="8" height="97" fill="#17807F"/>
<rect x="1235" y="1186" width="2" height="69" fill="#C4485A"/>
<rect x="1232" y="1196" width="8" height="28" fill="#CB3E4F"/>
<rect x="1244" y="1179" width="2" height="89" fill="#C4485A"/>
<rect x="1241" y="1224" width="8" height="8" fill="#CB3E4F"/>
<rect x="1253" y="1133" width="2" height="130" fill="#2A9380"/>
<rect x="1250" y="1157" width="8" height="75" fill="#17807F"/>
<rect x="1262" y="1139" width="2" height="72" fill="#C4485A"/>
<rect x="1259" y="1157" width="8" height="28" fill="#CB3E4F"/>
<rect x="1271" y="1170" width="2" height="70" fill="#C4485A"/>
<rect x="1268" y="1185" width="8" height="25" fill="#CB3E4F"/>
<rect x="1280" y="1169" width="2" height="49" fill="#C4485A"/>
<rect x="1277" y="1210" width="8" height="6" fill="#CB3E4F"/>
<rect x="1289" y="1214" width="2" height="38" fill="#C4485A"/>
<rect x="1286" y="1215" width="8" height="26" fill="#CB3E4F"/>
<rect x="1298" y="1194" width="2" height="108" fill="#2A9380"/>
<rect x="1295" y="1232" width="8" height="9" fill="#17807F"/>
<rect x="1307" y="1211" width="2" height="80" fill="#2A9380"/>
<rect x="1304" y="1219" width="8" height="13" fill="#17807F"/>
<rect x="1316" y="1194" width="2" height="59" fill="#C4485A"/>
<rect x="1313" y="1217" width="8" height="2" fill="#CB3E4F"/>
<rect x="1325" y="1182" width="2" height="67" fill="#2A9380"/>
<rect x="1322" y="1210" width="8" height="10" fill="#17807F"/>
<rect x="1334" y="1152" width="2" height="60" fill="#2A9380"/>
<rect x="1331" y="1163" width="8" height="47" fill="#17807F"/>
<rect x="1343" y="1135" width="2" height="95" fill="#C4485A"/>
<rect x="1340" y="1163" width="8" height="57" fill="#CB3E4F"/>
<rect x="1352" y="1198" width="2" height="26" fill="#2A9380"/>
<rect x="1349" y="1216" width="8" height="2" fill="#17807F"/>
<rect x="1361" y="1208" width="2" height="37" fill="#2A9380"/>
<rect x="1358" y="1210" width="8" height="7" fill="#17807F"/>
<rect x="1371" y="1189" width="2" height="30" fill="#2A9380"/>
<rect x="1368" y="1205" width="8" height="5" fill="#17807F"/>
<rect x="1380" y="1143" width="2" height="83" fill="#2A9380"/>
<rect x="1377" y="1164" width="8" height="41" fill="#17807F"/>
<rect x="1389" y="1153" width="2" height="32" fill="#2A9380"/>
<rect x="1386" y="1156" width="8" height="8" fill="#17807F"/>
<rect x="1398" y="1112" width="2" height="70" fill="#C4485A"/>
<rect x="1395" y="1156" width="8" height="21" fill="#CB3E4F"/>
<rect x="1407" y="1169" width="2" height="58" fill="#C4485A"/>
<rect x="1404" y="1177" width="8" height="41" fill="#CB3E4F"/>
<rect x="1416" y="1209" width="2" height="30" fill="#C4485A"/>
<rect x="1413" y="1216" width="8" height="2" fill="#CB3E4F"/>
<rect x="1425" y="1210" width="2" height="32" fill="#2A9380"/>
<rect x="1422" y="1214" width="8" height="5" fill="#17807F"/>
<rect x="1434" y="1182" width="2" height="58" fill="#2A9380"/>
<rect x="1431" y="1186" width="8" height="28" fill="#17807F"/>
<rect x="1443" y="1166" width="2" height="33" fill="#C4485A"/>
<rect x="1440" y="1186" width="8" height="6" fill="#CB3E4F"/>
<rect x="1452" y="1156" width="2" height="40" fill="#2A9380"/>
<rect x="1449" y="1186" width="8" height="6" fill="#17807F"/>
<rect x="1461" y="1172" width="2" height="102" fill="#C4485A"/>
<rect x="1458" y="1186" width="8" height="79" fill="#CB3E4F"/>
<rect x="1470" y="1217" width="2" height="59" fill="#2A9380"/>
<rect x="1467" y="1239" width="8" height="26" fill="#17807F"/>
<rect x="1479" y="1212" width="2" height="34" fill="#2A9380"/>
<rect x="1476" y="1219" width="8" height="20" fill="#17807F"/>
<rect x="1488" y="1210" width="2" height="22" fill="#C4485A"/>
<rect x="1485" y="1219" width="8" height="8" fill="#CB3E4F"/>
<rect x="1497" y="1151" width="2" height="88" fill="#2A9380"/>
<rect x="1494" y="1156" width="8" height="71" fill="#17807F"/>
<rect x="1506" y="1097" width="2" height="69" fill="#2A9380"/>
<rect x="1503" y="1101" width="8" height="55" fill="#17807F"/>
<rect x="1515" y="1075" width="2" height="55" fill="#C4485A"/>
<rect x="1512" y="1101" width="8" height="19" fill="#CB3E4F"/>
<rect x="1524" y="1114" width="2" height="68" fill="#C4485A"/>
<rect x="1521" y="1119" width="8" height="54" fill="#CB3E4F"/>
<rect x="1533" y="1170" width="2" height="85" fill="#C4485A"/>
<rect x="1530" y="1172" width="8" height="26" fill="#CB3E4F"/>
<rect x="1542" y="1197" width="2" height="37" fill="#C4485A"/>
<rect x="1539" y="1197" width="8" height="21" fill="#CB3E4F"/>
<rect x="1551" y="1206" width="2" height="27" fill="#2A9380"/>
<rect x="1548" y="1210" width="8" height="8" fill="#17807F"/>
<rect x="1560" y="1156" width="2" height="68" fill="#C4485A"/>
<rect x="1557" y="1210" width="8" height="2" fill="#CB3E4F"/>
<rect x="1569" y="1181" width="2" height="68" fill="#C4485A"/>
<rect x="1566" y="1212" width="8" height="15" fill="#CB3E4F"/>
<rect x="1578" y="1210" width="2" height="33" fill="#2A9380"/>
<rect x="1575" y="1221" width="8" height="6" fill="#17807F"/>
<rect x="1587" y="1210" width="2" height="25" fill="#C4485A"/>
<rect x="1584" y="1219" width="8" height="2" fill="#CB3E4F"/>
<rect x="1597" y="1202" width="2" height="81" fill="#C4485A"/>
<rect x="1594" y="1221" width="8" height="48" fill="#CB3E4F"/>
<rect x="1606" y="1251" width="2" height="94" fill="#C4485A"/>
<rect x="1603" y="1268" width="8" height="45" fill="#CB3E4F"/>
<rect x="1615" y="1305" width="2" height="82" fill="#C4485A"/>
<rect x="1612" y="1312" width="8" height="29" fill="#CB3E4F"/>
<rect x="1624" y="1254" width="2" height="102" fill="#2A9380"/>
<rect x="1621" y="1266" width="8" height="75" fill="#17807F"/>
<rect x="1633" y="1237" width="2" height="43" fill="#2A9380"/>
<rect x="1630" y="1250" width="8" height="16" fill="#17807F"/>
<rect x="1642" y="1242" width="2" height="31" fill="#C4485A"/>
<rect x="1639" y="1250" width="8" height="13" fill="#CB3E4F"/>
<rect x="1651" y="1221" width="2" height="52" fill="#C4485A"/>
<rect x="1648" y="1260" width="8" height="2" fill="#CB3E4F"/>
<rect x="1660" y="1244" width="2" height="34" fill="#2A9380"/>
<rect x="1657" y="1261" width="8" height="3" fill="#17807F"/>
<rect x="1669" y="1251" width="2" height="17" fill="#2A9380"/>
<rect x="1666" y="1257" width="8" height="4" fill="#17807F"/>
<rect x="1678" y="1219" width="2" height="46" fill="#2A9380"/>
<rect x="1675" y="1231" width="8" height="26" fill="#17807F"/>
<rect x="1687" y="1220" width="2" height="37" fill="#C4485A"/>
<rect x="1684" y="1231" width="8" height="5" fill="#CB3E4F"/>
<rect x="1696" y="1229" width="2" height="47" fill="#C4485A"/>
<rect x="1693" y="1236" width="8" height="33" fill="#CB3E4F"/>
<rect x="1705" y="1181" width="2" height="101" fill="#2A9380"/>
<rect x="1702" y="1202" width="8" height="67" fill="#17807F"/>
<rect x="1714" y="1174" width="2" height="33" fill="#2A9380"/>
<rect x="1711" y="1194" width="8" height="8" fill="#17807F"/>
<rect x="1723" y="1188" width="2" height="52" fill="#C4485A"/>
<rect x="1720" y="1194" width="8" height="33" fill="#CB3E4F"/>
<rect x="1732" y="1218" width="2" height="17" fill="#2A9380"/>
<rect x="1729" y="1224" width="8" height="2" fill="#17807F"/>
<rect x="1741" y="1187" width="2" height="41" fill="#2A9380"/>
<rect x="1738" y="1202" width="8" height="22" fill="#17807F"/>
<rect x="1750" y="1193" width="2" height="32" fill="#C4485A"/>
<rect x="1747" y="1202" width="8" height="11" fill="#CB3E4F"/>
<rect x="1759" y="1178" width="2" height="42" fill="#2A9380"/>
<rect x="1756" y="1183" width="8" height="30" fill="#17807F"/>
<rect x="1768" y="1109" width="2" height="84" fill="#2A9380"/>
<rect x="1765" y="1120" width="8" height="63" fill="#17807F"/>
<rect x="1777" y="1027" width="2" height="98" fill="#2A9380"/>
<rect x="1774" y="1047" width="8" height="73" fill="#17807F"/>
<rect x="1786" y="1010" width="2" height="52" fill="#2A9380"/>
<rect x="1783" y="1044" width="8" height="2" fill="#17807F"/>
<rect x="1795" y="1034" width="2" height="31" fill="#C4485A"/>
<rect x="1792" y="1043" width="8" height="7" fill="#CB3E4F"/>
<rect x="1804" y="1018" width="2" height="34" fill="#2A9380"/>
<rect x="1801" y="1038" width="8" height="12" fill="#17807F"/>
<rect x="1813" y="993" width="2" height="48" fill="#2A9380"/>
<rect x="1810" y="1021" width="8" height="16" fill="#17807F"/>
<rect x="1823" y="967" width="2" height="87" fill="#2A9380"/>
<rect x="1820" y="971" width="8" height="50" fill="#17807F"/>
<rect x="1832" y="854" width="2" height="132" fill="#2A9380"/>
<rect x="1829" y="875" width="8" height="95" fill="#17807F"/>
<rect x="1841" y="813" width="2" height="87" fill="#2A9380"/>
<rect x="1838" y="832" width="8" height="43" fill="#17807F"/>
<rect x="1850" y="751" width="2" height="88" fill="#2A9380"/>
<rect x="1847" y="803" width="8" height="29" fill="#17807F"/>
<rect x="1859" y="778" width="2" height="42" fill="#2A9380"/>
<rect x="1856" y="785" width="8" height="18" fill="#17807F"/>
<rect x="1868" y="691" width="2" height="99" fill="#2A9380"/>
<rect x="1865" y="718" width="8" height="67" fill="#17807F"/>
<rect x="1877" y="677" width="2" height="63" fill="#2A9380"/>
<rect x="1874" y="716" width="8" height="3" fill="#17807F"/>
<rect x="1886" y="701" width="2" height="75" fill="#C4485A"/>
<rect x="1883" y="716" width="8" height="7" fill="#CB3E4F"/>
<rect x="1895" y="715" width="2" height="96" fill="#C4485A"/>
<rect x="1892" y="722" width="8" height="49" fill="#CB3E4F"/>
<rect x="1904" y="712" width="2" height="108" fill="#2A9380"/>
<rect x="1901" y="739" width="8" height="32" fill="#17807F"/>
<rect x="1913" y="723" width="2" height="70" fill="#2A9380"/>
<rect x="1910" y="732" width="8" height="7" fill="#17807F"/>
<rect x="1922" y="703" width="2" height="39" fill="#2A9380"/>
<rect x="1919" y="726" width="8" height="6" fill="#17807F"/>
<rect x="1931" y="669" width="2" height="59" fill="#2A9380"/>
<rect x="1928" y="671" width="8" height="55" fill="#17807F"/>
<rect x="1940" y="644" width="2" height="75" fill="#C4485A"/>
<rect x="1937" y="671" width="8" height="32" fill="#CB3E4F"/>
<rect x="1949" y="666" width="2" height="69" fill="#C4485A"/>
<rect x="1946" y="702" width="8" height="2" fill="#CB3E4F"/>
<rect x="1958" y="688" width="2" height="64" fill="#2A9380"/>
<rect x="1955" y="698" width="8" height="6" fill="#17807F"/>
<rect x="1967" y="670" width="2" height="79" fill="#C4485A"/>
<rect x="1964" y="698" width="8" height="45" fill="#CB3E4F"/>
<rect x="1976" y="732" width="2" height="120" fill="#C4485A"/>
<rect x="1973" y="743" width="8" height="87" fill="#CB3E4F"/>
<rect x="1985" y="808" width="2" height="69" fill="#C4485A"/>
<rect x="1982" y="829" width="8" height="38" fill="#CB3E4F"/>
<rect x="1994" y="814" width="2" height="69" fill="#2A9380"/>
<rect x="1991" y="825" width="8" height="42" fill="#17807F"/>
<rect x="2003" y="727" width="2" height="100" fill="#2A9380"/>
<rect x="2000" y="735" width="8" height="91" fill="#17807F"/>
<rect x="2012" y="733" width="2" height="72" fill="#C4485A"/>
<rect x="2009" y="735" width="8" height="43" fill="#CB3E4F"/>
<rect x="2021" y="742" width="2" height="56" fill="#2A9380"/>
<rect x="2018" y="749" width="8" height="29" fill="#17807F"/>
<rect x="2030" y="649" width="2" height="114" fill="#2A9380"/>
<rect x="2027" y="656" width="8" height="93" fill="#17807F"/>
<rect x="2039" y="591" width="2" height="78" fill="#2A9380"/>
<rect x="2036" y="616" width="8" height="40" fill="#17807F"/>
<rect x="2049" y="487" width="2" height="130" fill="#2A9380"/>
<rect x="2046" y="513" width="8" height="104" fill="#17807F"/>
<rect x="2058" y="485" width="2" height="70" fill="#C4485A"/>
<rect x="2055" y="513" width="8" height="6" fill="#CB3E4F"/>
<rect x="2067" y="471" width="2" height="81" fill="#C4485A"/>
<rect x="2064" y="518" width="8" height="12" fill="#CB3E4F"/>
<rect x="2076" y="361" width="2" height="170" fill="#2A9380"/>
<rect x="2073" y="380" width="8" height="150" fill="#17807F"/>
<rect x="2085" y="300" width="2" height="91" fill="#2A9380"/>
<rect x="2082" y="315" width="8" height="65" fill="#17807F"/>
<rect x="2094" y="298" width="2" height="141" fill="#C4485A"/>
<rect x="2091" y="314" width="8" height="83" fill="#CB3E4F"/>
<rect x="2103" y="347" width="2" height="122" fill="#C4485A"/>
<rect x="2100" y="396" width="8" height="45" fill="#CB3E4F"/>
<rect x="2112" y="419" width="2" height="48" fill="#C4485A"/>
<rect x="2109" y="440" width="8" height="8" fill="#CB3E4F"/>
<rect x="2121" y="385" width="2" height="73" fill="#2A9380"/>
<rect x="2118" y="427" width="8" height="21" fill="#17807F"/>
<rect x="2130" y="423" width="2" height="105" fill="#C4485A"/>
<rect x="2127" y="427" width="8" height="66" fill="#CB3E4F"/>
<rect x="2139" y="475" width="2" height="118" fill="#C4485A"/>
<rect x="2136" y="492" width="8" height="98" fill="#CB3E4F"/>
<rect x="2148" y="466" width="2" height="128" fill="#2A9380"/>
<rect x="2145" y="484" width="8" height="107" fill="#17807F"/>
<rect x="2157" y="482" width="2" height="55" fill="#C4485A"/>
<rect x="2154" y="484" width="8" height="45" fill="#CB3E4F"/>
<rect x="2166" y="261" width="2" height="276" fill="#2A9380"/>
<rect x="2163" y="283" width="8" height="246" fill="#17807F"/>
<rect x="2175" y="282" width="2" height="69" fill="#C4485A"/>
<rect x="2172" y="283" width="8" height="21" fill="#CB3E4F"/>
<rect x="2184" y="231" width="2" height="100" fill="#2A9380"/>
<rect x="2181" y="302" width="8" height="2" fill="#17807F"/>
<rect x="2193" y="296" width="2" height="188" fill="#C4485A"/>
<rect x="2190" y="303" width="8" height="165" fill="#CB3E4F"/>
<rect x="2202" y="362" width="2" height="131" fill="#2A9380"/>
<rect x="2199" y="376" width="8" height="92" fill="#17807F"/>
<rect x="2211" y="350" width="2" height="74" fill="#C4485A"/>
<rect x="2208" y="375" width="8" height="40" fill="#CB3E4F"/>
<rect x="2220" y="362" width="2" height="84" fill="#2A9380"/>
<rect x="2217" y="411" width="8" height="2" fill="#17807F"/>
<rect x="2229" y="410" width="2" height="101" fill="#C4485A"/>
<rect x="2226" y="412" width="8" height="63" fill="#CB3E4F"/>
<rect x="2238" y="451" width="2" height="65" fill="#2A9380"/>
<rect x="2235" y="468" width="8" height="7" fill="#17807F"/>
<rect x="2247" y="417" width="2" height="52" fill="#2A9380"/>
<rect x="2244" y="461" width="8" height="8" fill="#17807F"/>
<rect x="2256" y="421" width="2" height="114" fill="#C4485A"/>
<rect x="2253" y="461" width="8" height="31" fill="#CB3E4F"/>
<rect x="2265" y="450" width="2" height="66" fill="#2A9380"/>
<rect x="2262" y="487" width="8" height="5" fill="#17807F"/>
<rect x="2275" y="419" width="2" height="86" fill="#2A9380"/>
<rect x="2272" y="436" width="8" height="51" fill="#17807F"/>
<rect x="2284" y="424" width="2" height="88" fill="#C4485A"/>
<rect x="2281" y="436" width="8" height="64" fill="#CB3E4F"/>
<rect x="2293" y="421" width="2" height="96" fill="#2A9380"/>
<rect x="2290" y="495" width="8" height="4" fill="#17807F"/>
<rect x="2302" y="486" width="2" height="37" fill="#C4485A"/>
<rect x="2299" y="495" width="8" height="15" fill="#CB3E4F"/>
<rect x="2311" y="483" width="2" height="27" fill="#2A9380"/>
<rect x="2308" y="496" width="8" height="14" fill="#17807F"/>
<rect x="2320" y="464" width="2" height="42" fill="#2A9380"/>
<rect x="2317" y="495" width="8" height="2" fill="#17807F"/>
<rect x="2329" y="465" width="2" height="43" fill="#2A9380"/>
<rect x="2326" y="493" width="8" height="2" fill="#17807F"/>
<rect x="2338" y="435" width="2" height="70" fill="#2A9380"/>
<rect x="2335" y="478" width="8" height="17" fill="#17807F"/>
<rect x="2347" y="425" width="2" height="56" fill="#2A9380"/>
<rect x="2344" y="433" width="8" height="45" fill="#17807F"/>
<rect x="2356" y="317" width="2" height="118" fill="#2A9380"/>
<rect x="2353" y="329" width="8" height="104" fill="#17807F"/>
<rect x="2365" y="308" width="2" height="65" fill="#C4485A"/>
<rect x="2362" y="329" width="8" height="20" fill="#CB3E4F"/>
<rect x="2374" y="338" width="2" height="46" fill="#C4485A"/>
<rect x="2371" y="348" width="8" height="26" fill="#CB3E4F"/>
<rect x="2383" y="347" width="2" height="83" fill="#C4485A"/>
<rect x="2380" y="374" width="8" height="34" fill="#CB3E4F"/>
<rect x="2392" y="401" width="2" height="46" fill="#C4485A"/>
<rect x="2389" y="407" width="8" height="10" fill="#CB3E4F"/>
<rect x="2401" y="368" width="2" height="83" fill="#2A9380"/>
<rect x="2398" y="379" width="8" height="38" fill="#17807F"/>
<rect x="2410" y="357" width="2" height="37" fill="#C4485A"/>
<rect x="2407" y="378" width="8" height="2" fill="#CB3E4F"/>
<rect x="2419" y="367" width="2" height="75" fill="#C4485A"/>
<rect x="2416" y="381" width="8" height="49" fill="#CB3E4F"/>
<rect x="2428" y="411" width="2" height="23" fill="#2A9380"/>
<rect x="2425" y="424" width="8" height="6" fill="#17807F"/>
<rect x="2437" y="416" width="2" height="23" fill="#C4485A"/>
<rect x="2434" y="424" width="8" height="15" fill="#CB3E4F"/>
<rect x="2446" y="434" width="2" height="161" fill="#C4485A"/>
<rect x="2443" y="438" width="8" height="100" fill="#CB3E4F"/>
<rect x="2455" y="525" width="2" height="47" fill="#C4485A"/>
<rect x="2452" y="538" width="8" height="16" fill="#CB3E4F"/>
<rect x="2464" y="535" width="2" height="53" fill="#C4485A"/>
<rect x="2461" y="553" width="8" height="6" fill="#CB3E4F"/>
<rect x="2473" y="554" width="2" height="137" fill="#C4485A"/>
<rect x="2470" y="558" width="8" height="113" fill="#CB3E4F"/>
<rect x="2482" y="591" width="2" height="82" fill="#2A9380"/>
<rect x="2479" y="606" width="8" height="65" fill="#17807F"/>
<rect x="2491" y="603" width="2" height="27" fill="#C4485A"/>
<rect x="2488" y="606" width="8" height="7" fill="#CB3E4F"/>
<rect x="2501" y="561" width="2" height="71" fill="#2A9380"/>
<rect x="2498" y="563" width="8" height="50" fill="#17807F"/>
<rect x="2510" y="522" width="2" height="64" fill="#2A9380"/>
<rect x="2507" y="532" width="8" height="31" fill="#17807F"/>
<rect x="2519" y="518" width="2" height="63" fill="#C4485A"/>
<rect x="2516" y="532" width="8" height="30" fill="#CB3E4F"/>
<rect x="2528" y="474" width="2" height="96" fill="#2A9380"/>
<rect x="2525" y="478" width="8" height="83" fill="#17807F"/>
<rect x="2537" y="407" width="2" height="77" fill="#2A9380"/>
<rect x="2534" y="423" width="8" height="55" fill="#17807F"/>
<rect x="2546" y="378" width="2" height="66" fill="#2A9380"/>
<rect x="2543" y="410" width="8" height="13" fill="#17807F"/>
<rect x="2555" y="407" width="2" height="32" fill="#C4485A"/>
<rect x="2552" y="410" width="8" height="12" fill="#CB3E4F"/>
<rect x="2564" y="368" width="2" height="60" fill="#2A9380"/>
<rect x="2561" y="411" width="8" height="11" fill="#17807F"/>
<rect x="2573" y="318" width="2" height="102" fill="#2A9380"/>
<rect x="2570" y="341" width="8" height="70" fill="#17807F"/>
<rect x="2582" y="311" width="2" height="133" fill="#C4485A"/>
<rect x="2579" y="341" width="8" height="96" fill="#CB3E4F"/>
<rect x="2591" y="392" width="2" height="60" fill="#2A9380"/>
<rect x="2588" y="406" width="8" height="31" fill="#17807F"/>
<rect x="2600" y="403" width="2" height="108" fill="#C4485A"/>
<rect x="2597" y="406" width="8" height="64" fill="#CB3E4F"/>
<rect x="2609" y="459" width="2" height="359" fill="#C4485A"/>
<rect x="2606" y="469" width="8" height="219" fill="#CB3E4F"/>
<rect x="2618" y="666" width="2" height="96" fill="#C4485A"/>
<rect x="2615" y="686" width="8" height="35" fill="#CB3E4F"/>
<rect x="2627" y="539" width="2" height="203" fill="#2A9380"/>
<rect x="2624" y="557" width="8" height="164" fill="#17807F"/>
<rect x="2636" y="500" width="2" height="101" fill="#2A9380"/>
<rect x="2633" y="521" width="8" height="36" fill="#17807F"/>
<rect x="2645" y="511" width="2" height="153" fill="#C4485A"/>
<rect x="2642" y="521" width="8" height="49" fill="#CB3E4F"/>
<rect x="2654" y="531" width="2" height="116" fill="#C4485A"/>
<rect x="2651" y="569" width="8" height="56" fill="#CB3E4F"/>
<rect x="2663" y="582" width="2" height="109" fill="#C4485A"/>
<rect x="2660" y="624" width="8" height="40" fill="#CB3E4F"/>
<rect x="2672" y="639" width="2" height="113" fill="#C4485A"/>
<rect x="2669" y="663" width="8" height="25" fill="#CB3E4F"/>
<rect x="2681" y="648" width="2" height="44" fill="#2A9380"/>
<rect x="2678" y="666" width="8" height="22" fill="#17807F"/>
<rect x="2690" y="607" width="2" height="82" fill="#2A9380"/>
<rect x="2687" y="627" width="8" height="39" fill="#17807F"/>
<rect x="2699" y="584" width="2" height="72" fill="#C4485A"/>
<rect x="2696" y="626" width="8" height="2" fill="#CB3E4F"/>
<rect x="2708" y="574" width="2" height="111" fill="#C4485A"/>
<rect x="2705" y="628" width="8" height="43" fill="#CB3E4F"/>
<rect x="2717" y="665" width="2" height="71" fill="#C4485A"/>
<rect x="2714" y="671" width="8" height="29" fill="#CB3E4F"/>
<rect x="2727" y="646" width="2" height="57" fill="#2A9380"/>
<rect x="2724" y="678" width="8" height="22" fill="#17807F"/>
<rect x="2736" y="610" width="2" height="71" fill="#2A9380"/>
<rect x="2733" y="646" width="8" height="32" fill="#17807F"/>
<rect x="2745" y="634" width="2" height="21" fill="#2A9380"/>
<rect x="2742" y="639" width="8" height="7" fill="#17807F"/>
<rect x="2754" y="547" width="2" height="105" fill="#2A9380"/>
<rect x="2751" y="556" width="8" height="83" fill="#17807F"/>
<rect x="2763" y="517" width="2" height="64" fill="#C4485A"/>
<rect x="2760" y="555" width="8" height="17" fill="#CB3E4F"/>
<rect x="2772" y="547" width="2" height="100" fill="#C4485A"/>
<rect x="2769" y="570" width="8" height="58" fill="#CB3E4F"/>
<rect x="2781" y="604" width="2" height="81" fill="#C4485A"/>
<rect x="2778" y="628" width="8" height="32" fill="#CB3E4F"/>
<rect x="2790" y="641" width="2" height="110" fill="#C4485A"/>
<rect x="2787" y="659" width="8" height="41" fill="#CB3E4F"/>
<rect x="2799" y="659" width="2" height="44" fill="#2A9380"/>
<rect x="2796" y="684" width="8" height="16" fill="#17807F"/>
<rect x="2808" y="658" width="2" height="31" fill="#2A9380"/>
<rect x="2805" y="673" width="8" height="11" fill="#17807F"/>
<rect x="2817" y="654" width="2" height="32" fill="#2A9380"/>
<rect x="2814" y="658" width="8" height="15" fill="#17807F"/>
<rect x="2826" y="654" width="2" height="147" fill="#C4485A"/>
<rect x="2823" y="658" width="8" height="124" fill="#CB3E4F"/>
<rect x="2835" y="761" width="2" height="243" fill="#C4485A"/>
<rect x="2832" y="781" width="8" height="129" fill="#CB3E4F"/>
<rect x="2844" y="832" width="2" height="126" fill="#2A9380"/>
<rect x="2841" y="854" width="8" height="56" fill="#17807F"/>
<rect x="2853" y="842" width="2" height="85" fill="#C4485A"/>
<rect x="2850" y="854" width="8" height="45" fill="#CB3E4F"/>
<rect x="2862" y="836" width="2" height="112" fill="#2A9380"/>
<rect x="2859" y="850" width="8" height="49" fill="#17807F"/>
<rect x="2871" y="829" width="2" height="53" fill="#C4485A"/>
<rect x="2868" y="850" width="8" height="14" fill="#CB3E4F"/>
<rect x="2880" y="774" width="2" height="108" fill="#2A9380"/>
<rect x="2877" y="790" width="8" height="74" fill="#17807F"/>
<rect x="2889" y="759" width="2" height="61" fill="#C4485A"/>
<rect x="2886" y="790" width="8" height="7" fill="#CB3E4F"/>
<rect x="2898" y="764" width="2" height="99" fill="#C4485A"/>
<rect x="2895" y="796" width="8" height="61" fill="#CB3E4F"/>
<rect x="2907" y="788" width="2" height="87" fill="#C4485A"/>
<rect x="2904" y="856" width="8" height="2" fill="#CB3E4F"/>
<rect x="2916" y="798" width="2" height="167" fill="#C4485A"/>
<rect x="2913" y="858" width="8" height="75" fill="#CB3E4F"/>
<rect x="2925" y="923" width="2" height="75" fill="#C4485A"/>
<rect x="2922" y="933" width="8" height="49" fill="#CB3E4F"/>
<rect x="2934" y="946" width="2" height="37" fill="#2A9380"/>
<rect x="2931" y="959" width="8" height="23" fill="#17807F"/>
<rect x="2943" y="926" width="2" height="99" fill="#C4485A"/>
<rect x="2940" y="959" width="8" height="30" fill="#CB3E4F"/>
<rect x="2953" y="937" width="2" height="107" fill="#C4485A"/>
<rect x="2950" y="988" width="8" height="27" fill="#CB3E4F"/>
<rect x="2962" y="958" width="2" height="92" fill="#2A9380"/>
<rect x="2959" y="977" width="8" height="38" fill="#17807F"/>
<rect x="2971" y="976" width="2" height="104" fill="#C4485A"/>
<rect x="2968" y="977" width="8" height="40" fill="#CB3E4F"/>
<rect x="2980" y="1002" width="2" height="110" fill="#C4485A"/>
<rect x="2977" y="1017" width="8" height="79" fill="#CB3E4F"/>
<rect x="2989" y="1075" width="2" height="105" fill="#C4485A"/>
<rect x="2986" y="1096" width="8" height="27" fill="#CB3E4F"/>
<rect x="2998" y="1109" width="2" height="39" fill="#2A9380"/>
<rect x="2995" y="1120" width="8" height="2" fill="#17807F"/>
<rect x="3007" y="1085" width="2" height="37" fill="#2A9380"/>
<rect x="3004" y="1109" width="8" height="12" fill="#17807F"/>
<rect x="3016" y="1032" width="2" height="90" fill="#2A9380"/>
<rect x="3013" y="1046" width="8" height="63" fill="#17807F"/>
<rect x="3025" y="1035" width="2" height="49" fill="#2A9380"/>
<rect x="3022" y="1044" width="8" height="3" fill="#17807F"/>
<rect x="3034" y="1008" width="2" height="64" fill="#2A9380"/>
<rect x="3031" y="1016" width="8" height="28" fill="#17807F"/>
<rect x="3043" y="998" width="2" height="35" fill="#C4485A"/>
<rect x="3040" y="1016" width="8" height="5" fill="#CB3E4F"/>
<rect x="3052" y="986" width="2" height="42" fill="#2A9380"/>
<rect x="3049" y="1014" width="8" height="7" fill="#17807F"/>
<rect x="3061" y="1006" width="2" height="36" fill="#C4485A"/>
<rect x="3058" y="1014" width="8" height="17" fill="#CB3E4F"/>
<rect x="3070" y="1005" width="2" height="32" fill="#2A9380"/>
<rect x="3067" y="1028" width="8" height="3" fill="#17807F"/>
<rect x="3079" y="1027" width="2" height="115" fill="#C4485A"/>
<rect x="3076" y="1029" width="8" height="81" fill="#CB3E4F"/>
<rect x="3088" y="1013" width="2" height="102" fill="#2A9380"/>
<rect x="3085" y="1028" width="8" height="82" fill="#17807F"/>
<rect x="3097" y="939" width="2" height="93" fill="#2A9380"/>
<rect x="3094" y="950" width="8" height="78" fill="#17807F"/>
<rect x="3106" y="928" width="2" height="71" fill="#C4485A"/>
<rect x="3103" y="950" width="8" height="22" fill="#CB3E4F"/>
<rect x="3115" y="948" width="2" height="85" fill="#C4485A"/>
<rect x="3112" y="972" width="8" height="46" fill="#CB3E4F"/>
<rect x="3124" y="999" width="2" height="23" fill="#2A9380"/>
<rect x="3121" y="1011" width="8" height="7" fill="#17807F"/>
<rect x="3133" y="966" width="2" height="97" fill="#2A9380"/>
<rect x="3130" y="1002" width="8" height="9" fill="#17807F"/>
<rect x="3142" y="954" width="2" height="56" fill="#2A9380"/>
<rect x="3139" y="976" width="8" height="26" fill="#17807F"/>
<rect x="3151" y="865" width="2" height="125" fill="#2A9380"/>
<rect x="3148" y="897" width="8" height="79" fill="#17807F"/>
<rect x="3160" y="833" width="2" height="76" fill="#2A9380"/>
<rect x="3157" y="895" width="8" height="3" fill="#17807F"/>
<rect x="3169" y="893" width="2" height="75" fill="#C4485A"/>
<rect x="3166" y="894" width="8" height="37" fill="#CB3E4F"/>
<rect x="3179" y="918" width="2" height="90" fill="#C4485A"/>
<rect x="3176" y="930" width="8" height="63" fill="#CB3E4F"/>
<rect x="3188" y="971" width="2" height="24" fill="#2A9380"/>
<rect x="3185" y="980" width="8" height="13" fill="#17807F"/>
<rect x="3197" y="974" width="2" height="42" fill="#C4485A"/>
<rect x="3194" y="980" width="8" height="22" fill="#CB3E4F"/>
<rect x="3206" y="954" width="2" height="116" fill="#C4485A"/>
<rect x="3203" y="1001" width="8" height="41" fill="#CB3E4F"/>
<rect x="3215" y="1034" width="2" height="41" fill="#C4485A"/>
<rect x="3212" y="1040" width="8" height="2" fill="#CB3E4F"/>
<rect x="3224" y="1015" width="2" height="97" fill="#C4485A"/>
<rect x="3221" y="1042" width="8" height="54" fill="#CB3E4F"/>
<rect x="3233" y="1028" width="2" height="91" fill="#C4485A"/>
<rect x="3230" y="1095" width="8" height="2" fill="#CB3E4F"/>
<rect x="3242" y="1020" width="2" height="85" fill="#2A9380"/>
<rect x="3239" y="1036" width="8" height="61" fill="#17807F"/>
<rect x="3251" y="1031" width="2" height="11" fill="#C4485A"/>
<rect x="3248" y="1035" width="8" height="2" fill="#CB3E4F"/>
<rect x="3260" y="1022" width="2" height="28" fill="#2A9380"/>
<rect x="3257" y="1027" width="8" height="9" fill="#17807F"/>
<rect x="3269" y="996" width="2" height="46" fill="#2A9380"/>
<rect x="3266" y="1024" width="8" height="3" fill="#17807F"/>
<rect x="3278" y="1013" width="2" height="53" fill="#C4485A"/>
<rect x="3275" y="1024" width="8" height="19" fill="#CB3E4F"/>
<rect x="3287" y="1036" width="2" height="37" fill="#C4485A"/>
<rect x="3284" y="1042" width="8" height="7" fill="#CB3E4F"/>
<rect x="3296" y="1039" width="2" height="33" fill="#C4485A"/>
<rect x="3293" y="1049" width="8" height="17" fill="#CB3E4F"/>
<rect x="3305" y="1030" width="2" height="40" fill="#2A9380"/>
<rect x="3302" y="1057" width="8" height="9" fill="#17807F"/>
<rect x="3314" y="1043" width="2" height="17" fill="#2A9380"/>
<rect x="3311" y="1049" width="8" height="8" fill="#17807F"/>
<rect x="3323" y="1047" width="2" height="8" fill="#C4485A"/>
<rect x="3320" y="1049" width="8" height="3" fill="#CB3E4F"/>
<g shape-rendering="geometricPrecision">
<rect x="22.5" y="866.5" width="5" height="25" fill="#2962FF"/>
<rect x="31" y="866" width="6" height="18" fill="#F23645"/>
<rect x="49" y="883" width="6" height="9" fill="#F23645"/>
<rect x="58.5" y="884.5" width="5" height="7" fill="#2962FF"/>
<rect x="67.5" y="844.5" width="5" height="37" fill="#2962FF"/>
<rect x="76.5" y="781.5" width="5" height="61" fill="#2962FF"/>
<rect x="85.5" y="761.5" width="5" height="18" fill="#2962FF"/>
<rect x="94" y="761" width="6" height="7" fill="#F23645"/>
<rect x="103.5" y="748.5" width="5" height="19" fill="#2962FF"/>
<rect x="112" y="748" width="6" height="124" fill="#F23645"/>
<rect x="121" y="873" width="6" height="21" fill="#F23645"/>
<rect x="130" y="895" width="6" height="43" fill="#F23645"/>
<rect x="139.5" y="919.5" width="5" height="18" fill="#2962FF"/>
<rect x="148.5" y="913.5" width="5" height="4" fill="#2962FF"/>
<rect x="157" y="913" width="6" height="6" fill="#F23645"/>
<rect x="166" y="919" width="6" height="52" fill="#F23645"/>
<rect x="175.5" y="937.5" width="5" height="33" fill="#2962FF"/>
<rect x="184.5" y="844.5" width="5" height="90" fill="#2962FF"/>
<rect x="193" y="844" width="6" height="58" fill="#F23645"/>
<rect x="202.5" y="834.5" width="5" height="67" fill="#2962FF"/>
<rect x="211" y="834" width="6" height="69" fill="#F23645"/>
<rect x="220" y="904" width="6" height="37" fill="#F23645"/>
<rect x="229.5" y="914.5" width="5" height="25" fill="#2962FF"/>
<rect x="239.5" y="894.5" width="5" height="17" fill="#2962FF"/>
<rect x="248" y="895" width="6" height="34" fill="#F23645"/>
<rect x="257.5" y="890.5" width="5" height="37" fill="#2962FF"/>
<rect x="266" y="890" width="6" height="11" fill="#F23645"/>
<rect x="275.5" y="899.5" width="5" height="1" fill="#2962FF"/>
<rect x="284" y="898" width="6" height="35" fill="#F23645"/>
<rect x="293" y="934" width="6" height="19" fill="#F23645"/>
<rect x="302" y="954" width="6" height="42" fill="#F23645"/>
<rect x="311.5" y="981.5" width="5" height="14" fill="#2962FF"/>
<rect x="320.5" y="927.5" width="5" height="52" fill="#2962FF"/>
<rect x="329.5" y="906.5" width="5" height="18" fill="#2962FF"/>
<rect x="338" y="906" width="6" height="73" fill="#F23645"/>
<rect x="347" y="980" width="6" height="100" fill="#F23645"/>
<rect x="356.5" y="1075.5" width="5" height="4" fill="#2962FF"/>
<rect x="365" y="1075" width="6" height="60" fill="#F23645"/>
<rect x="374.5" y="1114.5" width="5" height="20" fill="#2962FF"/>
<rect x="383" y="1114" width="6" height="40" fill="#F23645"/>
<rect x="392" y="1155" width="6" height="25" fill="#F23645"/>
<rect x="401.5" y="1177.5" width="5" height="2" fill="#2962FF"/>
<rect x="419.5" y="1165.5" width="5" height="11" fill="#2962FF"/>
<rect x="428" y="1165" width="6" height="24" fill="#F23645"/>
<rect x="437.5" y="1134.5" width="5" height="53" fill="#2962FF"/>
<rect x="446" y="1134" width="6" height="24" fill="#F23645"/>
<rect x="455.5" y="1139.5" width="5" height="18" fill="#2962FF"/>
<rect x="465" y="1139" width="6" height="12" fill="#F23645"/>
<rect x="474" y="1152" width="6" height="12" fill="#F23645"/>
<rect x="483.5" y="1132.5" width="5" height="31" fill="#2962FF"/>
<rect x="492" y="1132" width="6" height="29" fill="#F23645"/>
<rect x="501.5" y="1143.5" width="5" height="17" fill="#2962FF"/>
<rect x="510.5" y="1135.5" width="5" height="6" fill="#2962FF"/>
<rect x="519" y="1134" width="6" height="30" fill="#F23645"/>
<rect x="528.5" y="1124.5" width="5" height="39" fill="#2962FF"/>
<rect x="537.5" y="1101.5" width="5" height="20" fill="#2962FF"/>
<rect x="546" y="1101" width="6" height="124" fill="#F23645"/>
<rect x="555" y="1226" width="6" height="7" fill="#F23645"/>
<rect x="564" y="1234" width="6" height="64" fill="#F23645"/>
<rect x="573" y="1299" width="6" height="10" fill="#F23645"/>
<rect x="582" y="1310" width="6" height="27" fill="#F23645"/>
<rect x="591" y="1339" width="6" height="6" fill="#F23645"/>
<rect x="600.5" y="1224.5" width="5" height="120" fill="#2962FF"/>
<rect x="609" y="1224" width="6" height="149" fill="#F23645"/>
<rect x="618.5" y="1366.5" width="5" height="6" fill="#2962FF"/>
<rect x="627.5" y="1337.5" width="5" height="26" fill="#2962FF"/>
<rect x="636" y="1337" width="6" height="14" fill="#F23645"/>
<rect x="645" y="1352" width="6" height="24" fill="#F23645"/>
<rect x="654.5" y="1353.5" width="5" height="22" fill="#2962FF"/>
<rect x="663" y="1352" width="6" height="73" fill="#F23645"/>
<rect x="672" y="1426" width="6" height="63" fill="#F23645"/>
<rect x="681.5" y="1466.5" width="5" height="21" fill="#2962FF"/>
<rect x="691" y="1466" width="6" height="5" fill="#F23645"/>
<rect x="700" y="1472" width="6" height="17" fill="#F23645"/>
<rect x="709.5" y="1470.5" width="5" height="18" fill="#2962FF"/>
<rect x="718.5" y="1461.5" width="5" height="7" fill="#2962FF"/>
<rect x="727" y="1461" width="6" height="18" fill="#F23645"/>
<rect x="736.5" y="1464.5" width="5" height="14" fill="#2962FF"/>
<rect x="754.5" y="1411.5" width="5" height="49" fill="#2962FF"/>
<rect x="763" y="1411" width="6" height="28" fill="#F23645"/>
<rect x="772" y="1441" width="6" height="7" fill="#F23645"/>
<rect x="781.5" y="1443.5" width="5" height="4" fill="#2962FF"/>
<rect x="790.5" y="1433.5" width="5" height="7" fill="#2962FF"/>
<rect x="799.5" y="1402.5" width="5" height="28" fill="#2962FF"/>
<rect x="808" y="1401" width="6" height="5" fill="#F23645"/>
<rect x="817" y="1407" width="6" height="22" fill="#F23645"/>
<rect x="826" y="1431" width="6" height="1" fill="#F23645"/>
<rect x="835" y="1433" width="6" height="42" fill="#F23645"/>
<rect x="844" y="1477" width="6" height="26" fill="#F23645"/>
<rect x="853" y="1504" width="6" height="7" fill="#F23645"/>
<rect x="862.5" y="1508.5" width="5" height="2" fill="#2962FF"/>
<rect x="871.5" y="1473.5" width="5" height="32" fill="#2962FF"/>
<rect x="880" y="1473" width="6" height="43" fill="#F23645"/>
<rect x="889.5" y="1509.5" width="5" height="7" fill="#2962FF"/>
<rect x="907" y="1509" width="6" height="4" fill="#F23645"/>
<rect x="917" y="1514" width="6" height="90" fill="#F23645"/>
<rect x="926" y="1605" width="6" height="10" fill="#F23645"/>
<rect x="935" y="1616" width="6" height="32" fill="#F23645"/>
<rect x="944.5" y="1569.5" width="5" height="78" fill="#2962FF"/>
<rect x="953" y="1569" width="6" height="59" fill="#F23645"/>
<rect x="962.5" y="1611.5" width="5" height="16" fill="#2962FF"/>
<rect x="971.5" y="1579.5" width="5" height="29" fill="#2962FF"/>
<rect x="980" y="1579" width="6" height="17" fill="#F23645"/>
<rect x="989.5" y="1587.5" width="5" height="8" fill="#2962FF"/>
<rect x="998" y="1587" width="6" height="14" fill="#F23645"/>
<rect x="1007" y="1602" width="6" height="2" fill="#F23645"/>
<rect x="1034.5" y="1592.5" width="5" height="8" fill="#2962FF"/>
<rect x="1043" y="1592" width="6" height="9" fill="#F23645"/>
<rect x="1052" y="1602" width="6" height="2" fill="#F23645"/>
<rect x="1061.5" y="1533.5" width="5" height="70" fill="#2962FF"/>
<rect x="1070.5" y="1517.5" width="5" height="14" fill="#2962FF"/>
<rect x="1079" y="1517" width="6" height="10" fill="#F23645"/>
<rect x="1088.5" y="1521.5" width="5" height="5" fill="#2962FF"/>
<rect x="1097.5" y="1507.5" width="5" height="12" fill="#2962FF"/>
<rect x="1106" y="1507" width="6" height="11" fill="#F23645"/>
<rect x="1143.5" y="1500.5" width="5" height="15" fill="#2962FF"/>
<rect x="1161" y="1498" width="6" height="2" fill="#F23645"/>
<rect x="1170" y="1502" width="6" height="9" fill="#F23645"/>
<rect x="1179.5" y="1507.5" width="5" height="3" fill="#2962FF"/>
<rect x="1206.5" y="1351.5" width="5" height="157" fill="#2962FF"/>
<rect x="1215.5" y="1294.5" width="5" height="53" fill="#2962FF"/>
<rect x="1224.5" y="1197.5" width="5" height="94" fill="#2962FF"/>
<rect x="1233" y="1197" width="6" height="26" fill="#F23645"/>
<rect x="1242" y="1225" width="6" height="6" fill="#F23645"/>
<rect x="1251.5" y="1158.5" width="5" height="72" fill="#2962FF"/>
<rect x="1260" y="1158" width="6" height="26" fill="#F23645"/>
<rect x="1269" y="1186" width="6" height="23" fill="#F23645"/>
<rect x="1278" y="1211" width="6" height="4" fill="#F23645"/>
<rect x="1287" y="1216" width="6" height="24" fill="#F23645"/>
<rect x="1296.5" y="1233.5" width="5" height="6" fill="#2962FF"/>
<rect x="1305.5" y="1220.5" width="5" height="10" fill="#2962FF"/>
<rect x="1323.5" y="1211.5" width="5" height="7" fill="#2962FF"/>
<rect x="1332.5" y="1164.5" width="5" height="44" fill="#2962FF"/>
<rect x="1341" y="1164" width="6" height="55" fill="#F23645"/>
<rect x="1359.5" y="1211.5" width="5" height="4" fill="#2962FF"/>
<rect x="1369.5" y="1206.5" width="5" height="2" fill="#2962FF"/>
<rect x="1378.5" y="1165.5" width="5" height="38" fill="#2962FF"/>
<rect x="1387.5" y="1157.5" width="5" height="5" fill="#2962FF"/>
<rect x="1396" y="1157" width="6" height="19" fill="#F23645"/>
<rect x="1405" y="1178" width="6" height="39" fill="#F23645"/>
<rect x="1423.5" y="1215.5" width="5" height="2" fill="#2962FF"/>
<rect x="1432.5" y="1187.5" width="5" height="25" fill="#2962FF"/>
<rect x="1441" y="1187" width="6" height="4" fill="#F23645"/>
<rect x="1450.5" y="1187.5" width="5" height="3" fill="#2962FF"/>
<rect x="1459" y="1187" width="6" height="77" fill="#F23645"/>
<rect x="1468.5" y="1240.5" width="5" height="23" fill="#2962FF"/>
<rect x="1477.5" y="1220.5" width="5" height="17" fill="#2962FF"/>
<rect x="1486" y="1220" width="6" height="6" fill="#F23645"/>
<rect x="1495.5" y="1157.5" width="5" height="68" fill="#2962FF"/>
<rect x="1504.5" y="1102.5" width="5" height="52" fill="#2962FF"/>
<rect x="1513" y="1102" width="6" height="17" fill="#F23645"/>
<rect x="1522" y="1120" width="6" height="52" fill="#F23645"/>
<rect x="1531" y="1173" width="6" height="24" fill="#F23645"/>
<rect x="1540" y="1198" width="6" height="19" fill="#F23645"/>
<rect x="1549.5" y="1211.5" width="5" height="5" fill="#2962FF"/>
<rect x="1567" y="1213" width="6" height="13" fill="#F23645"/>
<rect x="1576.5" y="1222.5" width="5" height="3" fill="#2962FF"/>
<rect x="1595" y="1222" width="6" height="46" fill="#F23645"/>
<rect x="1604" y="1269" width="6" height="43" fill="#F23645"/>
<rect x="1613" y="1313" width="6" height="27" fill="#F23645"/>
<rect x="1622.5" y="1267.5" width="5" height="72" fill="#2962FF"/>
<rect x="1631.5" y="1251.5" width="5" height="13" fill="#2962FF"/>
<rect x="1640" y="1251" width="6" height="11" fill="#F23645"/>
<rect x="1667.5" y="1258.5" width="5" height="1" fill="#2962FF"/>
<rect x="1676.5" y="1232.5" width="5" height="23" fill="#2962FF"/>
<rect x="1685" y="1232" width="6" height="3" fill="#F23645"/>
<rect x="1694" y="1237" width="6" height="31" fill="#F23645"/>
<rect x="1703.5" y="1203.5" width="5" height="64" fill="#2962FF"/>
<rect x="1712.5" y="1195.5" width="5" height="5" fill="#2962FF"/>
<rect x="1721" y="1195" width="6" height="31" fill="#F23645"/>
<rect x="1739.5" y="1203.5" width="5" height="19" fill="#2962FF"/>
<rect x="1748" y="1203" width="6" height="9" fill="#F23645"/>
<rect x="1757.5" y="1184.5" width="5" height="27" fill="#2962FF"/>
<rect x="1766.5" y="1121.5" width="5" height="60" fill="#2962FF"/>
<rect x="1775.5" y="1048.5" width="5" height="70" fill="#2962FF"/>
<rect x="1793" y="1044" width="6" height="5" fill="#F23645"/>
<rect x="1802.5" y="1039.5" width="5" height="9" fill="#2962FF"/>
<rect x="1811.5" y="1022.5" width="5" height="13" fill="#2962FF"/>
<rect x="1821.5" y="972.5" width="5" height="47" fill="#2962FF"/>
<rect x="1830.5" y="876.5" width="5" height="92" fill="#2962FF"/>
<rect x="1839.5" y="833.5" width="5" height="40" fill="#2962FF"/>
<rect x="1848.5" y="804.5" width="5" height="26" fill="#2962FF"/>
<rect x="1857.5" y="786.5" width="5" height="15" fill="#2962FF"/>
<rect x="1866.5" y="719.5" width="5" height="64" fill="#2962FF"/>
<rect x="1884" y="717" width="6" height="5" fill="#F23645"/>
<rect x="1893" y="723" width="6" height="47" fill="#F23645"/>
<rect x="1902.5" y="740.5" width="5" height="29" fill="#2962FF"/>
<rect x="1911.5" y="733.5" width="5" height="4" fill="#2962FF"/>
<rect x="1920.5" y="727.5" width="5" height="3" fill="#2962FF"/>
<rect x="1929.5" y="672.5" width="5" height="52" fill="#2962FF"/>
<rect x="1938" y="672" width="6" height="30" fill="#F23645"/>
<rect x="1956.5" y="699.5" width="5" height="3" fill="#2962FF"/>
<rect x="1965" y="699" width="6" height="43" fill="#F23645"/>
<rect x="1974" y="744" width="6" height="85" fill="#F23645"/>
<rect x="1983" y="830" width="6" height="36" fill="#F23645"/>
<rect x="1992.5" y="826.5" width="5" height="39" fill="#2962FF"/>
<rect x="2001.5" y="736.5" width="5" height="88" fill="#2962FF"/>
<rect x="2010" y="736" width="6" height="41" fill="#F23645"/>
<rect x="2019.5" y="750.5" width="5" height="26" fill="#2962FF"/>
<rect x="2028.5" y="657.5" width="5" height="90" fill="#2962FF"/>
<rect x="2037.5" y="617.5" width="5" height="37" fill="#2962FF"/>
<rect x="2047.5" y="514.5" width="5" height="101" fill="#2962FF"/>
<rect x="2056" y="514" width="6" height="4" fill="#F23645"/>
<rect x="2065" y="519" width="6" height="10" fill="#F23645"/>
<rect x="2074.5" y="381.5" width="5" height="147" fill="#2962FF"/>
<rect x="2083.5" y="316.5" width="5" height="62" fill="#2962FF"/>
<rect x="2092" y="315" width="6" height="81" fill="#F23645"/>
<rect x="2101" y="397" width="6" height="43" fill="#F23645"/>
<rect x="2110" y="441" width="6" height="6" fill="#F23645"/>
<rect x="2119.5" y="428.5" width="5" height="18" fill="#2962FF"/>
<rect x="2128" y="428" width="6" height="64" fill="#F23645"/>
<rect x="2137" y="493" width="6" height="96" fill="#F23645"/>
<rect x="2146.5" y="485.5" width="5" height="104" fill="#2962FF"/>
<rect x="2155" y="485" width="6" height="43" fill="#F23645"/>
<rect x="2164.5" y="284.5" width="5" height="243" fill="#2962FF"/>
<rect x="2173" y="284" width="6" height="19" fill="#F23645"/>
<rect x="2191" y="304" width="6" height="163" fill="#F23645"/>
<rect x="2200.5" y="377.5" width="5" height="89" fill="#2962FF"/>
<rect x="2209" y="376" width="6" height="38" fill="#F23645"/>
<rect x="2227" y="413" width="6" height="61" fill="#F23645"/>
<rect x="2236.5" y="469.5" width="5" height="4" fill="#2962FF"/>
<rect x="2245.5" y="462.5" width="5" height="5" fill="#2962FF"/>
<rect x="2254" y="462" width="6" height="29" fill="#F23645"/>
<rect x="2263.5" y="488.5" width="5" height="2" fill="#2962FF"/>
<rect x="2273.5" y="437.5" width="5" height="48" fill="#2962FF"/>
<rect x="2282" y="437" width="6" height="62" fill="#F23645"/>
<rect x="2291.5" y="496.5" width="5" height="1" fill="#2962FF"/>
<rect x="2300" y="496" width="6" height="13" fill="#F23645"/>
<rect x="2309.5" y="497.5" width="5" height="11" fill="#2962FF"/>
<rect x="2336.5" y="479.5" width="5" height="14" fill="#2962FF"/>
<rect x="2345.5" y="434.5" width="5" height="42" fill="#2962FF"/>
<rect x="2354.5" y="330.5" width="5" height="101" fill="#2962FF"/>
<rect x="2363" y="330" width="6" height="18" fill="#F23645"/>
<rect x="2372" y="349" width="6" height="24" fill="#F23645"/>
<rect x="2381" y="375" width="6" height="32" fill="#F23645"/>
<rect x="2390" y="408" width="6" height="8" fill="#F23645"/>
<rect x="2399.5" y="380.5" width="5" height="35" fill="#2962FF"/>
<rect x="2417" y="382" width="6" height="47" fill="#F23645"/>
<rect x="2426.5" y="425.5" width="5" height="3" fill="#2962FF"/>
<rect x="2435" y="425" width="6" height="13" fill="#F23645"/>
<rect x="2444" y="439" width="6" height="98" fill="#F23645"/>
<rect x="2453" y="539" width="6" height="14" fill="#F23645"/>
<rect x="2462" y="554" width="6" height="4" fill="#F23645"/>
<rect x="2471" y="559" width="6" height="111" fill="#F23645"/>
<rect x="2480.5" y="607.5" width="5" height="62" fill="#2962FF"/>
<rect x="2489" y="607" width="6" height="5" fill="#F23645"/>
<rect x="2499.5" y="564.5" width="5" height="47" fill="#2962FF"/>
<rect x="2508.5" y="533.5" width="5" height="28" fill="#2962FF"/>
<rect x="2517" y="533" width="6" height="28" fill="#F23645"/>
<rect x="2526.5" y="479.5" width="5" height="80" fill="#2962FF"/>
<rect x="2535.5" y="424.5" width="5" height="52" fill="#2962FF"/>
<rect x="2544.5" y="411.5" width="5" height="10" fill="#2962FF"/>
<rect x="2553" y="411" width="6" height="10" fill="#F23645"/>
<rect x="2562.5" y="412.5" width="5" height="8" fill="#2962FF"/>
<rect x="2571.5" y="342.5" width="5" height="67" fill="#2962FF"/>
<rect x="2580" y="342" width="6" height="94" fill="#F23645"/>
<rect x="2589.5" y="407.5" width="5" height="28" fill="#2962FF"/>
<rect x="2598" y="407" width="6" height="62" fill="#F23645"/>
<rect x="2607" y="470" width="6" height="217" fill="#F23645"/>
<rect x="2616" y="687" width="6" height="33" fill="#F23645"/>
<rect x="2625.5" y="558.5" width="5" height="161" fill="#2962FF"/>
<rect x="2634.5" y="522.5" width="5" height="33" fill="#2962FF"/>
<rect x="2643" y="522" width="6" height="47" fill="#F23645"/>
<rect x="2652" y="570" width="6" height="54" fill="#F23645"/>
<rect x="2661" y="625" width="6" height="38" fill="#F23645"/>
<rect x="2670" y="664" width="6" height="23" fill="#F23645"/>
<rect x="2679.5" y="667.5" width="5" height="19" fill="#2962FF"/>
<rect x="2688.5" y="628.5" width="5" height="36" fill="#2962FF"/>
<rect x="2706" y="629" width="6" height="41" fill="#F23645"/>
<rect x="2715" y="672" width="6" height="27" fill="#F23645"/>
<rect x="2725.5" y="679.5" width="5" height="19" fill="#2962FF"/>
<rect x="2734.5" y="647.5" width="5" height="29" fill="#2962FF"/>
<rect x="2743.5" y="640.5" width="5" height="4" fill="#2962FF"/>
<rect x="2752.5" y="557.5" width="5" height="80" fill="#2962FF"/>
<rect x="2761" y="556" width="6" height="15" fill="#F23645"/>
<rect x="2770" y="571" width="6" height="56" fill="#F23645"/>
<rect x="2779" y="629" width="6" height="30" fill="#F23645"/>
<rect x="2788" y="660" width="6" height="39" fill="#F23645"/>
<rect x="2797.5" y="685.5" width="5" height="13" fill="#2962FF"/>
<rect x="2806.5" y="674.5" width="5" height="8" fill="#2962FF"/>
<rect x="2815.5" y="659.5" width="5" height="12" fill="#2962FF"/>
<rect x="2824" y="659" width="6" height="122" fill="#F23645"/>
<rect x="2833" y="782" width="6" height="127" fill="#F23645"/>
<rect x="2842.5" y="855.5" width="5" height="53" fill="#2962FF"/>
<rect x="2851" y="855" width="6" height="43" fill="#F23645"/>
<rect x="2860.5" y="851.5" width="5" height="46" fill="#2962FF"/>
<rect x="2869" y="851" width="6" height="12" fill="#F23645"/>
<rect x="2878.5" y="791.5" width="5" height="71" fill="#2962FF"/>
<rect x="2887" y="791" width="6" height="5" fill="#F23645"/>
<rect x="2896" y="797" width="6" height="59" fill="#F23645"/>
<rect x="2914" y="859" width="6" height="73" fill="#F23645"/>
<rect x="2923" y="934" width="6" height="47" fill="#F23645"/>
<rect x="2932.5" y="960.5" width="5" height="20" fill="#2962FF"/>
<rect x="2941" y="960" width="6" height="28" fill="#F23645"/>
<rect x="2951" y="989" width="6" height="25" fill="#F23645"/>
<rect x="2960.5" y="978.5" width="5" height="35" fill="#2962FF"/>
<rect x="2969" y="978" width="6" height="38" fill="#F23645"/>
<rect x="2978" y="1018" width="6" height="77" fill="#F23645"/>
<rect x="2987" y="1097" width="6" height="25" fill="#F23645"/>
<rect x="3005.5" y="1110.5" width="5" height="9" fill="#2962FF"/>
<rect x="3014.5" y="1047.5" width="5" height="60" fill="#2962FF"/>
<rect x="3032.5" y="1017.5" width="5" height="25" fill="#2962FF"/>
<rect x="3041" y="1017" width="6" height="3" fill="#F23645"/>
<rect x="3050.5" y="1015.5" width="5" height="4" fill="#2962FF"/>
<rect x="3059" y="1015" width="6" height="15" fill="#F23645"/>
<rect x="3077" y="1030" width="6" height="79" fill="#F23645"/>
<rect x="3086.5" y="1029.5" width="5" height="79" fill="#2962FF"/>
<rect x="3095.5" y="951.5" width="5" height="75" fill="#2962FF"/>
<rect x="3104" y="951" width="6" height="20" fill="#F23645"/>
<rect x="3113" y="973" width="6" height="44" fill="#F23645"/>
<rect x="3122.5" y="1012.5" width="5" height="4" fill="#2962FF"/>
<rect x="3131.5" y="1003.5" width="5" height="6" fill="#2962FF"/>
<rect x="3140.5" y="977.5" width="5" height="23" fill="#2962FF"/>
<rect x="3149.5" y="898.5" width="5" height="76" fill="#2962FF"/>
<rect x="3167" y="895" width="6" height="35" fill="#F23645"/>
<rect x="3177" y="931" width="6" height="61" fill="#F23645"/>
<rect x="3186.5" y="981.5" width="5" height="10" fill="#2962FF"/>
<rect x="3195" y="981" width="6" height="20" fill="#F23645"/>
<rect x="3204" y="1002" width="6" height="39" fill="#F23645"/>
<rect x="3222" y="1043" width="6" height="52" fill="#F23645"/>
<rect x="3240.5" y="1037.5" width="5" height="58" fill="#2962FF"/>
<rect x="3258.5" y="1028.5" width="5" height="6" fill="#2962FF"/>
<rect x="3276" y="1025" width="6" height="17" fill="#F23645"/>
<rect x="3285" y="1043" width="6" height="5" fill="#F23645"/>
<rect x="3294" y="1050" width="6" height="15" fill="#F23645"/>
<rect x="3303.5" y="1058.5" width="5" height="6" fill="#2962FF"/>
<rect x="3312.5" y="1050.5" width="5" height="5" fill="#2962FF"/>
<rect x="3321" y="1050" width="6" height="1" fill="#F23645"/>
</g>
<line x1="20" y1="1052" x2="3370" y2="1052" stroke="#b5485a" stroke-width="2" stroke-dasharray="2 4" shape-rendering="crispEdges"/>
</g>
<g shape-rendering="geometricPrecision" text-rendering="geometricPrecision">
<text x="717" y="206.6" font-size="24" fill="#000" textLength="204.7" lengthAdjust="spacingAndGlyphs">0.00% (4,979.47)</text>
<text x="702.1" y="552.1" font-size="24" fill="#000" textLength="219.6" lengthAdjust="spacingAndGlyphs">23.60% (4,129.64)</text>
<text x="702.1" y="765.8" font-size="24" fill="#000" textLength="219.6" lengthAdjust="spacingAndGlyphs">38.20% (3,603.90)</text>
<text x="702.3" y="938.5" font-size="24" fill="#000" textLength="219.4" lengthAdjust="spacingAndGlyphs">50.00% (3,178.99)</text>
<text x="702.1" y="1111.3" font-size="24" fill="#000" textLength="219.6" lengthAdjust="spacingAndGlyphs">61.80% (2,754.07)</text>
<text x="702" y="1357.2" font-size="24" fill="#000" textLength="219.6" lengthAdjust="spacingAndGlyphs">78.60% (2,149.11)</text>
<text x="687.5" y="1670.5" font-size="24" fill="#000" textLength="234.1" lengthAdjust="spacingAndGlyphs">100.00% (1,378.50)</text>
<text x="20" y="39.8" font-size="24" fill="#0d0d12" textLength="768.1" lengthAdjust="spacingAndGlyphs" stroke="#0d0d12" stroke-width="0.45">crispus9 created with TradingView.com, Dec 28, 2025 14:44 UTC+3</text>
<text x="36" y="93.7" font-size="24" fill="#131722" textLength="424.1" lengthAdjust="spacingAndGlyphs" stroke="#131722" stroke-width="0.45">Ethereum / U.S. Dollar · 1D · Coinbase</text>
<text x="473.2" y="93.7" font-size="24" fill="#131722" textLength="19.2" lengthAdjust="spacingAndGlyphs" stroke="#131722" stroke-width="0.45">O</text>
<text x="492.3" y="93.7" font-size="24" fill="#F23645" textLength="101.3" lengthAdjust="spacingAndGlyphs" stroke="#F23645" stroke-width="0.45">2,946.34</text>
<text x="607.6" y="93.7" font-size="24" fill="#131722" textLength="18.3" lengthAdjust="spacingAndGlyphs" stroke="#131722" stroke-width="0.45">H</text>
<text x="625.6" y="93.7" font-size="24" fill="#F23645" textLength="101.8" lengthAdjust="spacingAndGlyphs" stroke="#F23645" stroke-width="0.45">2,949.60</text>
<text x="741" y="93.7" font-size="24" fill="#131722" textLength="12.3" lengthAdjust="spacingAndGlyphs" stroke="#131722" stroke-width="0.45">L</text>
<text x="755" y="93.7" font-size="24" fill="#F23645" textLength="95.6" lengthAdjust="spacingAndGlyphs" stroke="#F23645" stroke-width="0.45">2,927.87</text>
<text x="864.7" y="93.7" font-size="24" fill="#131722" textLength="16.3" lengthAdjust="spacingAndGlyphs" stroke="#131722" stroke-width="0.45">C</text>
<text x="881.8" y="93.7" font-size="24" fill="#F23645" textLength="99.4" lengthAdjust="spacingAndGlyphs" stroke="#F23645" stroke-width="0.45">2,938.70</text>
<text x="997" y="93.7" font-size="24" fill="#131722" textLength="33.7" lengthAdjust="spacingAndGlyphs" stroke="#131722" stroke-width="0.45">Vol</text>
<text x="1029.7" y="93.7" font-size="24" fill="#F23645" textLength="46.2" lengthAdjust="spacingAndGlyphs" stroke="#F23645" stroke-width="0.45">7.62</text>
<text x="1081.1" y="93.7" font-size="24" fill="#F23645" textLength="14.9" lengthAdjust="spacingAndGlyphs" stroke="#F23645" stroke-width="0.45">K</text>
<text x="35.9" y="128" font-size="24" fill="#131722" textLength="178.5" lengthAdjust="spacingAndGlyphs" stroke="#131722" stroke-width="0.45">EMA (50, close)</text>
<text x="229.1" y="128" font-size="24" fill="#2759DC" textLength="98" lengthAdjust="spacingAndGlyphs" stroke="#2759DC" stroke-width="0.45">3,138.89</text>
<text x="35.9" y="162.2" font-size="24" fill="#131722" textLength="193.6" lengthAdjust="spacingAndGlyphs" stroke="#131722" stroke-width="0.45">EMA (200, close)</text>
<text x="244.2" y="162.2" font-size="24" fill="#DB2461" textLength="99" lengthAdjust="spacingAndGlyphs" stroke="#DB2461" stroke-width="0.45">3,378.08</text>
<g clip-path="url(#lp)">
<text x="3394.3" y="1766.3" font-size="32" fill="#131722" textLength="135.9" lengthAdjust="spacingAndGlyphs">1,200.00</text>
<text x="3394.3" y="1685.1" font-size="32" fill="#131722" textLength="135.9" lengthAdjust="spacingAndGlyphs">1,400.00</text>
<text x="3394.3" y="1603.8" font-size="32" fill="#131722" textLength="135.9" lengthAdjust="spacingAndGlyphs">1,600.00</text>
<text x="3394.3" y="1522.5" font-size="32" fill="#131722" textLength="135.9" lengthAdjust="spacingAndGlyphs">1,800.00</text>
<text x="3395.2" y="1441.3" font-size="32" fill="#131722" textLength="135.2" lengthAdjust="spacingAndGlyphs">2,000.00</text>
<text x="3395.2" y="1360" font-size="32" fill="#131722" textLength="135.2" lengthAdjust="spacingAndGlyphs">2,200.00</text>
<text x="3395.2" y="1278.7" font-size="32" fill="#131722" textLength="135.2" lengthAdjust="spacingAndGlyphs">2,400.00</text>
<text x="3395.2" y="1197.5" font-size="32" fill="#131722" textLength="135.2" lengthAdjust="spacingAndGlyphs">2,600.00</text>
<text x="3395.2" y="1116.2" font-size="32" fill="#131722" textLength="135.2" lengthAdjust="spacingAndGlyphs">2,800.00</text>
<text x="3395.4" y="1034.9" font-size="32" fill="#131722" textLength="135" lengthAdjust="spacingAndGlyphs">3,000.00</text>
<text x="3395.4" y="953.7" font-size="32" fill="#131722" textLength="135" lengthAdjust="spacingAndGlyphs">3,200.00</text>
<text x="3395.4" y="872.4" font-size="32" fill="#131722" textLength="135" lengthAdjust="spacingAndGlyphs">3,400.00</text>
<text x="3395.4" y="791.1" font-size="32" fill="#131722" textLength="135" lengthAdjust="spacingAndGlyphs">3,600.00</text>
<text x="3395.4" y="709.9" font-size="32" fill="#131722" textLength="135" lengthAdjust="spacingAndGlyphs">3,800.00</text>
<text x="3396.2" y="628.6" font-size="32" fill="#131722" textLength="134.1" lengthAdjust="spacingAndGlyphs">4,000.00</text>
<text x="3396.2" y="547.4" font-size="32" fill="#131722" textLength="134.1" lengthAdjust="spacingAndGlyphs">4,200.00</text>
<text x="3396.2" y="466.1" font-size="32" fill="#131722" textLength="134.1" lengthAdjust="spacingAndGlyphs">4,400.00</text>
<text x="3396.2" y="384.8" font-size="32" fill="#131722" textLength="134.1" lengthAdjust="spacingAndGlyphs">4,600.00</text>
<text x="3396.2" y="303.6" font-size="32" fill="#131722" textLength="134.1" lengthAdjust="spacingAndGlyphs">4,800.00</text>
<text x="3395.2" y="222.3" font-size="32" fill="#131722" textLength="135.1" lengthAdjust="spacingAndGlyphs">5,000.00</text>
<text x="3395.2" y="141" font-size="32" fill="#131722" textLength="135.1" lengthAdjust="spacingAndGlyphs">5,200.00</text>
</g>
<line x1="2871.9" y1="1183.5" x2="3373.7" y2="1183.5" stroke="#7E57C2" stroke-width="4.2" stroke-dasharray="20 24"/>
<rect x="3382.1" y="61.9" width="163.9" height="51.9" rx="8.5" ry="8.5" fill="#fff" stroke="#f3f3f6" stroke-width="2"/>
<text x="3399.8" y="95.8" font-size="23.5" fill="#131722" textLength="50.2" lengthAdjust="spacingAndGlyphs" stroke="#131722" stroke-width="0.45">USD</text>
<path d="M3376,1161H3540a4,4 0 0 1 4,4V1203a4,4 0 0 1 -4,4H3376Z" fill="#7E57C2"/>
<text x="3396.8" y="1193.2" font-size="32" fill="#fff" textLength="134.2" lengthAdjust="spacingAndGlyphs">2,613.13</text>
<g clip-path="url(#tp)">
<text x="312.2" y="1873.7" font-size="31.5" fill="#131722" textLength="57.3" lengthAdjust="spacingAndGlyphs">Feb</text>
<text x="564.6" y="1873.7" font-size="31.5" fill="#131722" textLength="57.9" lengthAdjust="spacingAndGlyphs">Mar</text>
<text x="849.5" y="1873.7" font-size="31.5" fill="#131722" textLength="51.1" lengthAdjust="spacingAndGlyphs">Apr</text>
<text x="1113.6" y="1873.7" font-size="31.5" fill="#131722" textLength="62.4" lengthAdjust="spacingAndGlyphs">May</text>
<text x="1400.4" y="1873.7" font-size="31.5" fill="#131722" textLength="53.2" lengthAdjust="spacingAndGlyphs">Jun</text>
<text x="1676.5" y="1873.7" font-size="31.5" fill="#131722" textLength="43.7" lengthAdjust="spacingAndGlyphs">Jul</text>
<text x="1950" y="1873.7" font-size="31.5" fill="#131722" textLength="57.2" lengthAdjust="spacingAndGlyphs">Aug</text>
<text x="2228.4" y="1873.7" font-size="31.5" fill="#131722" textLength="58.5" lengthAdjust="spacingAndGlyphs">Sep</text>
<text x="2502" y="1873.7" font-size="31.5" fill="#131722" textLength="52.9" lengthAdjust="spacingAndGlyphs">Oct</text>
<text x="2778.3" y="1873.7" font-size="31.5" fill="#131722" textLength="60" lengthAdjust="spacingAndGlyphs">Nov</text>
<text x="3049.6" y="1873.7" font-size="31.5" fill="#131722" textLength="60.1" lengthAdjust="spacingAndGlyphs">Dec</text>
<text x="19.8" y="1873.7" font-size="31.5" fill="#131722" textLength="83.9" lengthAdjust="spacingAndGlyphs" font-weight="bold">2025</text>
<text x="3319.3" y="1873.7" font-size="31.5" fill="#131722" textLength="84.2" lengthAdjust="spacingAndGlyphs" font-weight="bold">2026</text>
</g>
<g fill="#131313">
<path d="M24,1944.2H47.8V1973.7H35.8V1956H24Z"/>
<circle cx="57.6" cy="1950" r="5.9"/>
<path d="M68.4,1944.2H83.8L72.5,1973.7H58.6Z"/>
</g>
<defs><clipPath id="wm"><rect x="90" y="1952.2" width="260" height="21.9"/></clipPath></defs>
<g fill="none" stroke="#131313" stroke-width="6"><path d="M98.1,1947.1H120M108.9,1944.1V1974.1"/><path d="M122.9,1952.2V1974.1M122.9,1966C122.9,1958 126.5,1955.2 133.4,1955.2"/><circle cx="144.6" cy="1963.1" r="8.4"/><path d="M153.2,1952.2V1974.1"/><circle cx="171.3" cy="1963.1" r="8.4"/><path d="M179.3,1944.1V1974.1"/><path d="M188.9,1952.2V1974.1"/><path d="M198.9,1952.2V1974.1M198.9,1964C198.9,1957.5 202,1954.7 206,1954.7C210,1954.7 213.1,1957.5 213.1,1964V1974.1"/><circle cx="230.7" cy="1963.1" r="8.4"/><path d="M238.8,1952.2V1972Q238.8,1980.2 230.5,1980.2Q225.5,1980.2 222.3,1976.8"/><path d="M277.2,1952.2V1974.1"/><path d="M303.8,1963.3A8.4,8.4 0 1 0 301.6,1968.9"/><path stroke-width="4.6" d="M288,1964.7H306.7"/><path clip-path="url(#wm)" stroke-linejoin="miter" stroke-miterlimit="10" d="M308.5,1946L315.6,1975.5L323.5,1950L331.4,1975.5L338.6,1946"/></g>
<g fill="#131313"><circle cx="188.9" cy="1946.5" r="3.9"/><circle cx="277.2" cy="1946.6" r="3.9"/><path d="M241.1,1944.1L253,1974.1H259.9L271.4,1944.1H264.3L256.4,1965.3L248.5,1944.1Z"/></g>
</g>
</svg>
</body></html>
